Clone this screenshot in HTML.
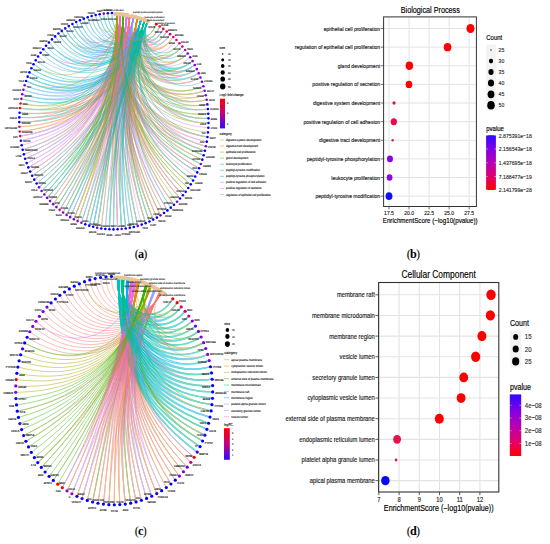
<!DOCTYPE html>
<html><head><meta charset="utf-8"><style>
html,body{margin:0;padding:0;background:#fff;}
body{width:550px;height:544px;overflow:hidden;position:relative;font-family:"Liberation Sans",sans-serif;}
svg{position:absolute;left:0;top:0;}
.pl{position:absolute;font-family:"Liberation Serif",serif;font-size:12.2px;color:#000;line-height:1;white-space:nowrap;letter-spacing:-0.8px;}
.pl b{font-weight:bold;}
</style></head><body>
<svg width="550" height="544" viewBox="0 0 550 544" font-family="Liberation Sans, sans-serif"><defs>
<linearGradient id="gb" x1="0" y1="0" x2="0" y2="1"><stop offset="0" stop-color="#2d0bff"/><stop offset="0.25" stop-color="#7f00e6"/><stop offset="0.5" stop-color="#b400b4"/><stop offset="0.75" stop-color="#e00070"/><stop offset="1" stop-color="#ff0000"/></linearGradient>
<linearGradient id="gd" x1="0" y1="0" x2="0" y2="1"><stop offset="0" stop-color="#2d0bff"/><stop offset="0.25" stop-color="#7f00e6"/><stop offset="0.5" stop-color="#b400b4"/><stop offset="0.75" stop-color="#e00070"/><stop offset="1" stop-color="#ff0000"/></linearGradient>
<linearGradient id="gfc" x1="0" y1="0" x2="0" y2="1"><stop offset="0" stop-color="#ff0000"/><stop offset="0.5" stop-color="#c4007f"/><stop offset="1" stop-color="#2d0bff"/></linearGradient>
</defs><g text-rendering="geometricPrecision"><g fill="none" stroke-width="0.75"><g opacity="0.55"><path d="M203.3 91.14C159.14 105.99 118.48 68.07 122.96 16.22" stroke="#39B600"/><path d="M203.3 91.14C160.17 105.64 120.32 67.09 126.3 16.66" stroke="#E76BF3"/><path d="M203.3 91.14C158.13 106.33 116.75 69.1 119.66 15.91" stroke="#FF62BC"/><path d="M203.3 91.14C157.21 106.64 115.23 70.11 116.65 15.75" stroke="#A3A500"/></g><g opacity="0.55"><path d="M21.41 108.28C77.84 116.16 117.71 80.3 123.67 16.3" stroke="#39B600"/><path d="M21.41 108.28C82.36 116.79 122.02 86.45 137.73 19.29" stroke="#D89000"/><path d="M21.41 108.28C85.49 117.23 124.11 90.97 147.12 22.79" stroke="#00BFC4"/></g><g opacity="0.55"><path d="M25.2 153.84C87.29 130.99 114.93 89.57 117.32 15.78" stroke="#A3A500"/><path d="M25.2 153.84C87.29 130.99 119.78 90.27 133.5 18.11" stroke="#9590FF"/></g><g opacity="0.55"><path d="M20.72 122.08C80.3 121.52 116.2 83.25 120.26 15.96" stroke="#FF62BC"/><path d="M20.72 122.08C83.43 121.49 119.17 87.23 130.02 17.33" stroke="#F8766D"/><path d="M20.72 122.08C85.92 121.47 121.03 90.58 137.65 19.26" stroke="#D89000"/><path d="M20.72 122.08C85.95 121.46 123.85 91.67 147.07 22.76" stroke="#00BFC4"/></g><g opacity="0.55"><path d="M205.24 100.09C157.64 111.09 118.25 70.92 122.98 16.22" stroke="#39B600"/><path d="M205.24 100.09C163.22 109.8 128.27 66.65 140.5 20.19" stroke="#00B0F6"/><path d="M205.24 100.09C160.81 110.36 123.72 68.19 133.01 18" stroke="#9590FF"/><path d="M205.24 100.09C162.09 110.06 126.08 67.32 136.99 19.06" stroke="#D89000"/></g><g opacity="0.55"><path d="M191.38 62C159.61 86.28 117.24 59.08 119.56 15.9" stroke="#FF62BC"/><path d="M191.38 62C158.82 86.88 115.45 60.07 116.58 15.75" stroke="#A3A500"/><path d="M191.38 62C162.22 84.28 123.53 56.34 129.34 17.19" stroke="#F8766D"/><path d="M191.38 62C160.48 85.61 119.28 58.08 122.84 16.2" stroke="#39B600"/><path d="M191.38 62C163.2 83.54 126.03 55.53 132.97 17.99" stroke="#9590FF"/><path d="M191.38 62C165.23 81.98 131.47 54.26 140.42 20.16" stroke="#00B0F6"/><path d="M191.38 62C166.99 80.64 136.39 53.64 146.72 22.61" stroke="#00BFC4"/><path d="M191.38 62C166.21 81.24 134.17 53.86 143.93 21.45" stroke="#00BF7D"/></g><g opacity="0.55"><path d="M137.43 224.32C120.96 152.14 114.82 89.57 116.97 15.76" stroke="#A3A500"/><path d="M137.43 224.32C120.96 152.14 116.75 89.72 123.41 16.27" stroke="#39B600"/><path d="M137.43 224.32C120.96 152.14 115.71 89.62 119.93 15.93" stroke="#FF62BC"/><path d="M137.43 224.32C120.96 152.14 123.78 91.64 146.85 22.67" stroke="#00BFC4"/></g><g opacity="0.55"><path d="M199.14 78.15C160.52 97.66 118.83 63.78 122.91 16.21" stroke="#39B600"/><path d="M199.14 78.15C161.5 97.16 120.81 62.82 126.27 16.66" stroke="#E76BF3"/><path d="M199.14 78.15C162.43 96.69 122.73 62 129.41 17.21" stroke="#F8766D"/></g><g opacity="0.55"><path d="M24.74 90.25C77.34 108.51 121.98 78.94 133.6 18.14" stroke="#9590FF"/><path d="M24.74 90.25C79.65 109.31 124.28 82.46 140.93 20.34" stroke="#00B0F6"/></g><g opacity="0.55"><path d="M103.9 15.24C106.51 42.89 136.63 47.7 144.65 21.74" stroke="#00BF7D"/><path d="M103.9 15.24C106.62 44 138.4 49.63 147.53 22.97" stroke="#00BFC4"/></g><g opacity="0.55"><path d="M181.9 194.07C134.3 143.06 114.8 89.57 116.91 15.76" stroke="#A3A500"/><path d="M181.9 194.07C134.3 143.06 115.67 89.62 119.79 15.92" stroke="#FF62BC"/><path d="M181.9 194.07C134.3 143.06 116.71 89.71 123.26 16.25" stroke="#39B600"/><path d="M181.9 194.07C134.3 143.06 117.69 89.85 126.54 16.7" stroke="#E76BF3"/></g><g opacity="0.55"><path d="M51.06 199.89C95.05 144.81 114.9 89.57 117.25 15.77" stroke="#A3A500"/><path d="M51.06 199.89C95.05 144.81 115.75 89.62 120.07 15.94" stroke="#FF62BC"/><path d="M51.06 199.89C95.05 144.81 119.73 90.26 133.35 18.08" stroke="#9590FF"/></g><g opacity="0.55"><path d="M26.51 158.2C87.68 132.3 114.92 89.57 117.3 15.78" stroke="#A3A500"/><path d="M26.51 158.2C87.68 132.3 115.78 89.62 120.17 15.95" stroke="#FF62BC"/><path d="M26.51 158.2C87.68 132.3 119.77 90.27 133.48 18.11" stroke="#9590FF"/></g><g opacity="0.55"><path d="M121.55 227.42C116.19 153.07 117.77 89.86 126.8 16.74" stroke="#E76BF3"/><path d="M121.55 227.42C116.19 153.07 114.84 89.57 117.02 15.77" stroke="#A3A500"/><path d="M121.55 227.42C116.19 153.07 123 91.31 144.23 21.57" stroke="#00BF7D"/><path d="M121.55 227.42C116.19 153.07 121.92 90.91 140.63 20.23" stroke="#00B0F6"/><path d="M121.55 227.42C116.19 153.07 123.8 91.65 146.9 22.69" stroke="#00BFC4"/></g><g opacity="0.55"><path d="M184.59 190.63C135.11 142.03 114.8 89.57 116.89 15.76" stroke="#A3A500"/><path d="M184.59 190.63C135.11 142.03 118.61 90.01 129.62 17.25" stroke="#F8766D"/><path d="M184.59 190.63C135.11 142.03 122.98 91.3 144.16 21.55" stroke="#00BF7D"/><path d="M184.59 190.63C135.11 142.03 120.88 90.57 137.15 19.11" stroke="#D89000"/></g><g opacity="0.55"><path d="M201 159.07C140.21 132.64 116.68 89.49 123.12 16.23" stroke="#39B600"/><path d="M201 159.07C141.21 133.08 117.84 88.43 126.46 16.69" stroke="#E76BF3"/><path d="M201 159.07C144.44 134.48 122.03 85.4 137.1 19.1" stroke="#D89000"/></g><g opacity="0.55"><path d="M195.98 171.65C138.52 136.34 115.65 89.61 119.73 15.92" stroke="#FF62BC"/><path d="M195.98 171.65C138.52 136.34 116.69 89.71 123.19 16.24" stroke="#39B600"/><path d="M195.98 171.65C138.52 136.34 117.68 89.85 126.51 16.7" stroke="#E76BF3"/><path d="M195.98 171.65C138.52 136.34 119.66 90.24 133.1 18.02" stroke="#9590FF"/><path d="M195.98 171.65C141.38 138.09 124.02 87.83 144.12 21.53" stroke="#00BF7D"/></g><g opacity="0.55"><path d="M169.22 35.44C154.41 58.39 125.14 45.02 129.24 17.17" stroke="#F8766D"/><path d="M169.22 35.44C152.55 61.28 117.78 47.62 119.46 15.9" stroke="#FF62BC"/><path d="M169.22 35.44C157.84 53.09 139.94 42.89 146.68 22.59" stroke="#00BFC4"/></g><g opacity="0.55"><path d="M145.14 221.61C123.27 151.32 117.75 89.86 126.72 16.73" stroke="#E76BF3"/><path d="M145.14 221.61C123.27 151.32 116.75 89.72 123.39 16.27" stroke="#39B600"/><path d="M145.14 221.61C123.27 151.32 115.7 89.62 119.91 15.93" stroke="#FF62BC"/><path d="M145.14 221.61C123.27 151.32 123.78 91.64 146.83 22.66" stroke="#00BFC4"/><path d="M145.14 221.61C123.27 151.32 120.93 90.59 137.32 19.16" stroke="#D89000"/></g><g opacity="0.55"><path d="M195.57 69.89C159.03 92.84 115.4 62.93 116.62 15.75" stroke="#A3A500"/><path d="M195.57 69.89C159.86 92.32 117.11 61.94 119.6 15.91" stroke="#FF62BC"/><path d="M195.57 69.89C164.77 89.24 128.25 57.58 136.94 19.05" stroke="#D89000"/><path d="M195.57 69.89C165.79 88.6 130.77 57.01 140.46 20.17" stroke="#00B0F6"/></g><g opacity="0.55"><path d="M165.92 32.78C150.96 58.22 117.85 46.19 119.44 15.9" stroke="#FF62BC"/><path d="M165.92 32.78C152.17 56.16 122.98 44.29 126.25 16.65" stroke="#E76BF3"/><path d="M165.92 32.78C152.7 55.25 125.32 43.6 129.21 17.17" stroke="#F8766D"/><path d="M165.92 32.78C155.39 50.69 137.77 41.62 143.84 21.42" stroke="#00BF7D"/></g><g opacity="0.55"><path d="M69.47 27.52C85.96 62.29 131.05 57.83 141.17 20.42" stroke="#00B0F6"/><path d="M69.47 27.52C86.51 63.45 132.82 59.87 144.58 21.71" stroke="#00BF7D"/></g><g opacity="0.55"><path d="M54.09 202.93C95.96 145.72 114.9 89.57 117.23 15.77" stroke="#A3A500"/><path d="M54.09 202.93C95.96 145.72 119.73 90.26 133.33 18.07" stroke="#9590FF"/><path d="M54.09 202.93C95.96 145.72 120.98 90.6 137.48 19.21" stroke="#D89000"/></g><g opacity="0.55"><path d="M21.61 135.87C83.47 126.04 115.04 86.45 117.36 15.78" stroke="#A3A500"/><path d="M21.61 135.87C86.21 125.6 117.87 89.88 127.12 16.79" stroke="#E76BF3"/><path d="M21.61 135.87C84.38 125.89 115.92 87.54 120.22 15.95" stroke="#FF62BC"/><path d="M21.61 135.87C86.21 125.6 119.8 90.28 133.56 18.13" stroke="#9590FF"/></g><g opacity="0.55"><path d="M41.69 53.84C78.95 88.6 130.05 73.6 147.27 22.85" stroke="#00BFC4"/></g><g opacity="0.55"><path d="M52.92 40.62C81.07 77.82 131.89 68.27 147.32 22.88" stroke="#00BFC4"/></g><g opacity="0.55"><path d="M206.58 132.22C147.45 125.19 114.92 83.03 116.73 15.75" stroke="#A3A500"/></g><g opacity="0.55"><path d="M35.5 178.8C90.38 138.48 118.71 90.03 129.92 17.31" stroke="#F8766D"/><path d="M35.5 178.8C90.38 138.48 119.76 90.27 133.43 18.1" stroke="#9590FF"/><path d="M35.5 178.8C90.38 138.48 121.98 90.93 140.85 20.31" stroke="#00B0F6"/><path d="M35.5 178.8C90.38 138.48 121 90.61 137.57 19.24" stroke="#D89000"/></g><g opacity="0.55"><path d="M29.64 166.7C88.62 134.85 115.77 89.62 120.13 15.95" stroke="#FF62BC"/><path d="M29.64 166.7C88.62 134.85 117.84 89.87 127.04 16.78" stroke="#E76BF3"/></g><g opacity="0.55"><path d="M205.4 141.35C148.54 128.83 119.8 81.84 129.48 17.22" stroke="#F8766D"/><path d="M205.4 141.35C145.45 128.15 115.89 84.89 119.68 15.91" stroke="#FF62BC"/></g><g opacity="0.55"><path d="M101.43 226.82C110.16 152.89 115.73 89.62 119.99 15.94" stroke="#FF62BC"/><path d="M101.43 226.82C110.16 152.89 114.86 89.57 117.1 15.77" stroke="#A3A500"/></g><g opacity="0.55"><path d="M193.55 65.89C159 89.89 115.43 61.5 116.6 15.75" stroke="#A3A500"/><path d="M193.55 65.89C159.81 89.32 117.17 60.51 119.58 15.91" stroke="#FF62BC"/><path d="M193.55 65.89C160.71 88.7 119.17 59.5 122.87 16.2" stroke="#39B600"/><path d="M193.55 65.89C162.49 87.46 123.34 57.75 129.38 17.2" stroke="#F8766D"/><path d="M193.55 65.89C166.59 84.61 133.78 55.22 143.95 21.46" stroke="#00BF7D"/><path d="M193.55 65.89C167.4 84.05 135.96 54.99 146.74 22.62" stroke="#00BFC4"/><path d="M193.55 65.89C165.59 85.31 131.12 55.64 140.44 20.17" stroke="#00B0F6"/></g><g opacity="0.55"><path d="M148.91 219.97C124.4 150.83 118.65 90.02 129.72 17.27" stroke="#F8766D"/><path d="M148.91 219.97C124.4 150.83 121.91 90.91 140.59 20.22" stroke="#00B0F6"/><path d="M148.91 219.97C124.4 150.83 122.99 91.31 144.19 21.55" stroke="#00BF7D"/></g><g opacity="0.55"><path d="M173.08 203.52C131.65 145.9 116.72 89.72 123.3 16.25" stroke="#39B600"/><path d="M173.08 203.52C131.65 145.9 118.63 90.02 129.65 17.25" stroke="#F8766D"/><path d="M173.08 203.52C131.65 145.9 117.71 89.85 126.59 16.71" stroke="#E76BF3"/><path d="M173.08 203.52C131.65 145.9 120.89 90.58 137.21 19.13" stroke="#D89000"/></g><g opacity="0.55"><path d="M23.06 144.95C86.65 128.32 117.85 89.88 127.07 16.79" stroke="#E76BF3"/></g><g opacity="0.55"><path d="M152.61 218.14C125.51 150.28 114.81 89.57 116.95 15.76" stroke="#A3A500"/><path d="M152.61 218.14C125.51 150.28 115.7 89.62 119.89 15.93" stroke="#FF62BC"/><path d="M152.61 218.14C125.51 150.28 116.74 89.72 123.37 16.26" stroke="#39B600"/><path d="M152.61 218.14C125.51 150.28 118.64 90.02 129.68 17.26" stroke="#F8766D"/><path d="M152.61 218.14C125.51 150.28 123.77 91.63 146.81 22.65" stroke="#00BFC4"/><path d="M152.61 218.14C125.51 150.28 120.92 90.59 137.29 19.15" stroke="#D89000"/></g><g opacity="0.55"><path d="M200.69 82.41C167.46 97.26 134.18 60.36 146.76 22.63" stroke="#00BFC4"/></g><g opacity="0.55"><path d="M141.31 223.06C122.12 151.76 117.75 89.86 126.75 16.73" stroke="#E76BF3"/></g><g opacity="0.55"><path d="M37.75 182.62C91.06 139.63 119.75 90.27 133.41 18.09" stroke="#9590FF"/><path d="M37.75 182.62C91.06 139.63 123.84 91.67 147.05 22.75" stroke="#00BFC4"/></g><g opacity="0.55"><path d="M193.99 175.67C137.93 137.54 115.66 89.62 119.75 15.92" stroke="#FF62BC"/></g><g opacity="0.55"><path d="M204.35 95.59C156.5 109.14 115.21 71.54 116.67 15.75" stroke="#A3A500"/><path d="M204.35 95.59C162.84 107.34 126.38 65.93 136.96 19.06" stroke="#D89000"/></g><g opacity="0.55"><path d="M45.35 193.38C93.33 142.86 114.91 89.57 117.26 15.78" stroke="#A3A500"/><path d="M45.35 193.38C93.33 142.86 116.82 89.73 123.62 16.29" stroke="#39B600"/><path d="M45.35 193.38C93.33 142.86 123.06 91.33 144.42 21.65" stroke="#00BF7D"/><path d="M45.35 193.38C93.33 142.86 121.97 90.93 140.8 20.29" stroke="#00B0F6"/></g><g opacity="0.55"><path d="M59.24 34.89C82.43 71.51 131.55 63.92 144.56 21.7" stroke="#00BF7D"/><path d="M59.24 34.89C82.99 72.39 132.82 65.61 147.36 22.89" stroke="#00BFC4"/></g><g opacity="0.55"><path d="M60.5 208.54C97.88 147.4 115.74 89.62 120.05 15.94" stroke="#FF62BC"/><path d="M60.5 208.54C97.88 147.4 121.96 90.93 140.78 20.28" stroke="#00B0F6"/><path d="M60.5 208.54C97.88 147.4 120.97 90.6 137.46 19.2" stroke="#D89000"/><path d="M60.5 208.54C97.88 147.4 119.72 90.26 133.31 18.07" stroke="#9590FF"/></g><g opacity="0.55"><path d="M84.24 20.17C93.64 52.18 132.57 52.37 141.23 20.44" stroke="#00B0F6"/><path d="M84.24 20.17C92.86 49.53 128.02 48.13 133.81 18.19" stroke="#9590FF"/></g><g opacity="0.55"><path d="M169.91 206.38C130.7 146.75 117.72 89.85 126.62 16.71" stroke="#E76BF3"/><path d="M169.91 206.38C130.7 146.75 123.77 91.63 146.79 22.64" stroke="#00BFC4"/></g><g opacity="0.55"><path d="M175.5 41.23C155.27 67.5 117.66 50.48 119.5 15.9" stroke="#FF62BC"/></g><g opacity="0.55"><path d="M99.9 15.83C103.89 45.87 137.93 50.96 147.51 22.96" stroke="#00BFC4"/><path d="M99.9 15.83C103.58 43.49 134.09 46.9 141.27 20.46" stroke="#00B0F6"/></g><g opacity="0.55"><path d="M204.55 145.85C143.02 129.12 114.82 87.33 116.76 15.76" stroke="#A3A500"/><path d="M204.55 145.85C146.02 129.93 118.33 84.17 126.41 16.68" stroke="#E76BF3"/><path d="M204.55 145.85C150.5 131.16 124.66 80.42 140.55 20.2" stroke="#00B0F6"/><path d="M204.55 145.85C146.99 130.2 119.6 83.25 129.51 17.23" stroke="#F8766D"/></g><g opacity="0.55"><path d="M162.53 30.29C150.83 52.16 125.5 42.19 129.18 17.16" stroke="#F8766D"/><path d="M162.53 30.29C149.2 55.21 117.91 44.76 119.42 15.89" stroke="#FF62BC"/><path d="M162.53 30.29C151.47 50.97 128.6 41.46 132.93 17.98" stroke="#9590FF"/><path d="M162.53 30.29C150.33 53.09 123.13 42.87 126.22 16.65" stroke="#E76BF3"/><path d="M162.53 30.29C153.34 47.47 138.16 40.26 143.81 21.41" stroke="#00BF7D"/></g><g opacity="0.55"><path d="M197.43 73.98C159.78 95.26 117.04 63.37 119.62 15.91" stroke="#FF62BC"/><path d="M197.43 73.98C160.71 94.73 118.94 62.36 122.89 16.21" stroke="#39B600"/><path d="M197.43 73.98C163.63 93.08 125.27 59.75 132.99 17.99" stroke="#9590FF"/><path d="M197.43 73.98C165.84 91.84 130.43 58.39 140.48 20.18" stroke="#00B0F6"/></g><g opacity="0.55"><path d="M184.03 51.02C164.82 70.25 137.72 49.61 146.7 22.6" stroke="#00BFC4"/></g><g opacity="0.55"><path d="M107.92 14.84C109.4 41.16 137.06 46.36 144.68 21.75" stroke="#00BF7D"/><path d="M107.92 14.84C109.33 39.87 134.85 44.17 141.3 20.47" stroke="#00B0F6"/></g><g opacity="0.55"><path d="M40.15 186.33C91.77 140.74 115.76 89.62 120.09 15.94" stroke="#FF62BC"/><path d="M40.15 186.33C91.77 140.74 121.98 90.93 140.82 20.3" stroke="#00B0F6"/><path d="M40.15 186.33C91.77 140.74 119.75 90.27 133.39 18.09" stroke="#9590FF"/><path d="M40.15 186.33C91.77 140.74 120.99 90.61 137.54 19.23" stroke="#D89000"/><path d="M40.15 186.33C91.77 140.74 123.06 91.34 144.44 21.66" stroke="#00BF7D"/></g><g opacity="0.55"><path d="M95.93 16.62C99.4 36.83 116.75 36.15 117.43 15.78" stroke="#A3A500"/><path d="M95.93 16.62C100.42 42.75 128.87 43.94 133.85 18.2" stroke="#9590FF"/><path d="M95.93 16.62C101.3 47.85 137.46 52.29 147.49 22.95" stroke="#00BFC4"/></g><g opacity="0.55"><path d="M205.95 104.63C154.74 113.85 115.14 74.41 116.69 15.75" stroke="#A3A500"/><path d="M205.95 104.63C162.36 112.48 127.92 68.02 140.52 20.2" stroke="#00B0F6"/><path d="M205.95 104.63C161.21 112.68 125.78 68.7 137.02 19.07" stroke="#D89000"/></g><g opacity="0.55"><path d="M133.51 225.39C119.78 152.46 114.83 89.57 116.99 15.76" stroke="#A3A500"/><path d="M133.51 225.39C119.78 152.46 123.79 91.64 146.87 22.67" stroke="#00BFC4"/></g><g opacity="0.55"><path d="M56.02 37.67C79.14 71.03 125.8 59.32 133.71 18.17" stroke="#9590FF"/><path d="M56.02 37.67C81.96 75.1 132.36 66.94 147.34 22.88" stroke="#00BFC4"/></g><g opacity="0.55"><path d="M206.49 109.2C155.72 115.78 118.01 73.78 123 16.22" stroke="#39B600"/><path d="M206.49 109.2C158.94 115.36 123.21 71 133.04 18" stroke="#9590FF"/><path d="M206.49 109.2C162.53 114.9 129.7 68.82 143.98 21.47" stroke="#00BF7D"/></g><g opacity="0.55"><path d="M36.87 61.23C78.72 93.81 129.13 76.28 147.25 22.84" stroke="#00BFC4"/></g><g opacity="0.55"><path d="M32.63 69.07C78.18 98.29 127.35 77.47 144.51 21.69" stroke="#00BF7D"/><path d="M32.63 69.07C77.17 97.64 126.17 75.63 141.04 20.37" stroke="#00B0F6"/></g><g opacity="0.55"><path d="M156.24 216.14C126.6 149.68 115.69 89.62 119.87 15.93" stroke="#FF62BC"/><path d="M156.24 216.14C126.6 149.68 117.74 89.86 126.7 16.73" stroke="#E76BF3"/><path d="M156.24 216.14C126.6 149.68 120.91 90.58 137.26 19.15" stroke="#D89000"/></g><g opacity="0.55"><path d="M73.05 25.41C84.69 52.7 118.49 45.95 120.32 15.96" stroke="#FF62BC"/><path d="M73.05 25.41C86.59 57.15 127.18 52.32 133.77 18.18" stroke="#9590FF"/><path d="M73.05 25.41C87.66 59.67 131.43 56.47 141.19 20.43" stroke="#00B0F6"/><path d="M73.05 25.41C88.58 61.83 134.67 60.28 147.42 22.92" stroke="#00BFC4"/></g><g opacity="0.55"><path d="M48.14 196.71C94.17 143.85 119.74 90.26 133.37 18.08" stroke="#9590FF"/><path d="M48.14 196.71C94.17 143.85 116.81 89.73 123.6 16.29" stroke="#39B600"/><path d="M48.14 196.71C94.17 143.85 120.98 90.61 137.51 19.22" stroke="#D89000"/><path d="M48.14 196.71C94.17 143.85 123.83 91.66 147.01 22.74" stroke="#00BFC4"/><path d="M48.14 196.71C94.17 143.85 123.05 91.33 144.4 21.64" stroke="#00BF7D"/></g><g opacity="0.55"><path d="M78.14 219.61C103.17 150.72 114.88 89.57 117.15 15.77" stroke="#A3A500"/><path d="M78.14 219.61C103.17 150.72 116.78 89.72 123.51 16.28" stroke="#39B600"/><path d="M78.14 219.61C103.17 150.72 119.71 90.26 133.27 18.06" stroke="#9590FF"/><path d="M78.14 219.61C103.17 150.72 120.95 90.6 137.4 19.19" stroke="#D89000"/></g><g opacity="0.55"><path d="M206.91 127.62C151.91 123.83 118.99 78.48 126.35 16.67" stroke="#E76BF3"/></g><g opacity="0.55"><path d="M206.86 113.8C154.63 117.96 117.9 75.2 123.03 16.22" stroke="#39B600"/><path d="M206.86 113.8C152.62 118.12 115.07 77.28 116.71 15.75" stroke="#A3A500"/></g><g opacity="0.55"><path d="M21.14 131.29C82.97 124.57 116.02 86.11 120.24 15.95" stroke="#FF62BC"/><path d="M21.14 131.29C86.07 124.23 121.01 90.61 137.59 19.24" stroke="#D89000"/></g><g opacity="0.55"><path d="M105.44 227.34C111.36 153.04 117.79 89.87 126.88 16.76" stroke="#E76BF3"/><path d="M105.44 227.34C111.36 153.04 123.81 91.65 146.94 22.71" stroke="#00BFC4"/></g><g opacity="0.55"><path d="M117.52 227.7C114.99 153.15 114.84 89.57 117.04 15.77" stroke="#A3A500"/><path d="M117.52 227.7C114.99 153.15 116.76 89.72 123.44 16.27" stroke="#39B600"/><path d="M117.52 227.7C114.99 153.15 117.78 89.86 126.83 16.75" stroke="#E76BF3"/><path d="M117.52 227.7C114.99 153.15 115.72 89.62 119.95 15.93" stroke="#FF62BC"/></g><g opacity="0.55"><path d="M187.15 187.07C135.88 140.96 114.79 89.57 116.87 15.76" stroke="#A3A500"/><path d="M187.15 187.07C135.88 140.96 116.7 89.71 123.23 16.25" stroke="#39B600"/></g><g opacity="0.55"><path d="M111.95 14.65C112.38 38.27 135.24 42.81 141.32 20.47" stroke="#00B0F6"/><path d="M111.95 14.65C112.43 40.67 139.33 46.97 147.54 22.97" stroke="#00BFC4"/></g><g opacity="0.55"><path d="M202.35 154.73C140.44 131.26 114.77 89.57 116.8 15.76" stroke="#A3A500"/><path d="M202.35 154.73C142.83 132.17 118 87.01 126.43 16.68" stroke="#E76BF3"/><path d="M202.35 154.73C141.82 131.78 116.8 88.07 123.1 16.23" stroke="#39B600"/><path d="M202.35 154.73C148.33 134.25 125.65 82.4 144.09 21.52" stroke="#00BF7D"/></g><g opacity="0.55"><path d="M97.45 226.1C108.96 152.67 114.86 89.57 117.12 15.77" stroke="#A3A500"/><path d="M97.45 226.1C108.96 152.67 116.77 89.72 123.48 16.28" stroke="#39B600"/><path d="M97.45 226.1C108.96 152.67 120.93 90.59 137.35 19.17" stroke="#D89000"/><path d="M97.45 226.1C108.96 152.67 121.93 90.91 140.67 20.25" stroke="#00B0F6"/></g><g opacity="0.55"><path d="M67.3 213.49C99.92 148.89 114.89 89.57 117.19 15.77" stroke="#A3A500"/><path d="M67.3 213.49C99.92 148.89 118.69 90.03 129.85 17.3" stroke="#F8766D"/><path d="M67.3 213.49C99.92 148.89 117.82 89.87 126.96 16.77" stroke="#E76BF3"/><path d="M67.3 213.49C99.92 148.89 116.8 89.73 123.55 16.28" stroke="#39B600"/><path d="M67.3 213.49C99.92 148.89 121.96 90.92 140.76 20.28" stroke="#00B0F6"/><path d="M67.3 213.49C99.92 148.89 123.83 91.66 146.99 22.73" stroke="#00BFC4"/></g><g opacity="0.55"><path d="M28 162.49C88.13 133.59 115.77 89.62 120.15 15.95" stroke="#FF62BC"/><path d="M28 162.49C88.13 133.59 119.77 90.27 133.45 18.1" stroke="#9590FF"/></g><g opacity="0.55"><path d="M22.25 140.43C86.4 126.97 117.86 89.88 127.09 16.79" stroke="#E76BF3"/><path d="M22.25 140.43C85.83 127.09 115.83 88.97 120.21 15.95" stroke="#FF62BC"/><path d="M22.25 140.43C86.4 126.97 119.79 90.28 133.54 18.12" stroke="#9590FF"/></g><g opacity="0.55"><path d="M181.31 47.62C156.65 74.54 115.58 54.33 116.54 15.75" stroke="#A3A500"/><path d="M181.31 47.62C159.61 71.31 124.35 50.68 129.31 17.19" stroke="#F8766D"/><path d="M181.31 47.62C158.09 72.96 119.73 52.36 122.8 16.2" stroke="#39B600"/><path d="M181.31 47.62C157.34 73.79 117.52 53.35 119.52 15.9" stroke="#FF62BC"/><path d="M181.31 47.62C163.07 67.53 135.77 48.42 143.88 21.43" stroke="#00BF7D"/></g><g opacity="0.55"><path d="M176.14 200.52C132.57 145 116.71 89.72 123.28 16.25" stroke="#39B600"/></g><g opacity="0.55"><path d="M30.73 73.14C77.44 100.13 125.79 77 141.02 20.37" stroke="#00B0F6"/><path d="M30.73 73.14C79.3 101.21 127.76 80.28 147.21 22.83" stroke="#00BFC4"/></g><g opacity="0.55"><path d="M189.07 58.22C162.75 80.28 126.28 54.13 132.95 17.98" stroke="#9590FF"/></g><g opacity="0.55"><path d="M62.55 32.26C78.77 60.36 116.3 49.08 117.41 15.78" stroke="#A3A500"/><path d="M62.55 32.26C81.66 65.36 126.35 56.52 133.73 18.17" stroke="#9590FF"/><path d="M62.55 32.26C83.01 67.69 130.28 60.55 141.12 20.4" stroke="#00B0F6"/><path d="M62.55 32.26C84.17 69.7 133.29 64.28 147.38 22.9" stroke="#00BFC4"/></g><g opacity="0.55"><path d="M129.55 226.26C118.59 152.72 119.68 90.25 133.16 18.03" stroke="#9590FF"/><path d="M129.55 226.26C118.59 152.72 121.91 90.91 140.61 20.23" stroke="#00B0F6"/></g><g opacity="0.55"><path d="M163.26 211.59C128.71 148.32 119.67 90.25 133.14 18.03" stroke="#9590FF"/><path d="M163.26 211.59C128.71 148.32 120.9 90.58 137.24 19.14" stroke="#D89000"/></g><g opacity="0.55"><path d="M159.05 27.97C147.28 52.26 117.97 43.33 119.4 15.89" stroke="#FF62BC"/><path d="M159.05 27.97C146.83 53.19 115.8 44.27 116.5 15.75" stroke="#A3A500"/><path d="M159.05 27.97C147.8 51.19 120.55 42.35 122.75 16.19" stroke="#39B600"/><path d="M159.05 27.97C148.79 49.14 125.68 40.78 129.14 17.16" stroke="#F8766D"/><path d="M159.05 27.97C151.6 43.35 141.26 38.85 146.66 22.59" stroke="#00BFC4"/></g><g opacity="0.55"><path d="M80.45 21.73C91.91 55.81 134.08 55.81 144.61 21.72" stroke="#00BF7D"/><path d="M80.45 21.73C92.26 56.85 135.61 57.62 147.45 22.93" stroke="#00BFC4"/></g><g opacity="0.55"><path d="M203.54 150.32C145.41 131.44 119.4 84.65 129.55 17.23" stroke="#F8766D"/><path d="M203.54 150.32C141.48 130.16 114.79 88.76 116.78 15.76" stroke="#A3A500"/><path d="M203.54 150.32C142.37 130.45 115.74 87.76 119.7 15.91" stroke="#FF62BC"/><path d="M203.54 150.32C150.01 132.93 126.05 81.04 144.07 21.51" stroke="#00BF7D"/></g><g opacity="0.55"><path d="M207.07 123.02C152.19 121.95 117.66 78.06 123.05 16.23" stroke="#39B600"/><path d="M207.07 123.02C159.04 122.08 128.49 72.89 144.02 21.49" stroke="#00BF7D"/><path d="M207.07 123.02C156.73 122.03 124.55 74.26 137.07 19.09" stroke="#D89000"/></g><g opacity="0.55"><path d="M125.56 226.94C117.4 152.92 114.83 89.57 117 15.76" stroke="#A3A500"/><path d="M125.56 226.94C117.4 152.92 117.76 89.86 126.78 16.74" stroke="#E76BF3"/><path d="M125.56 226.94C117.4 152.92 123.8 91.64 146.88 22.68" stroke="#00BFC4"/><path d="M125.56 226.94C117.4 152.92 122.99 91.31 144.21 21.56" stroke="#00BF7D"/></g><g opacity="0.55"><path d="M159.8 213.95C127.67 149.03 117.73 89.86 126.67 16.72" stroke="#E76BF3"/><path d="M159.8 213.95C127.67 149.03 115.69 89.62 119.85 15.92" stroke="#FF62BC"/><path d="M159.8 213.95C127.67 149.03 116.73 89.72 123.35 16.26" stroke="#39B600"/></g><g opacity="0.55"><path d="M33.39 174.86C89.75 137.3 118.72 90.03 129.96 17.32" stroke="#F8766D"/><path d="M33.39 174.86C89.75 137.3 121.99 90.93 140.87 20.31" stroke="#00B0F6"/></g><g opacity="0.55"><path d="M178.46 44.35C155.72 71.42 115.6 52.89 116.52 15.75" stroke="#A3A500"/><path d="M178.46 44.35C161.87 64.1 136.16 47.06 143.86 21.43" stroke="#00BF7D"/></g><g opacity="0.55"><path d="M57.24 205.81C96.9 146.58 117.83 89.87 126.99 16.77" stroke="#E76BF3"/><path d="M57.24 205.81C96.9 146.58 116.8 89.73 123.57 16.29" stroke="#39B600"/><path d="M57.24 205.81C96.9 146.58 123.04 91.33 144.37 21.63" stroke="#00BF7D"/></g><g opacity="0.55"><path d="M191.86 179.58C137.29 138.71 114.78 89.57 116.84 15.76" stroke="#A3A500"/><path d="M191.86 179.58C137.88 139.16 123.2 90.54 144.14 21.54" stroke="#00BF7D"/><path d="M191.86 179.58C137.29 138.71 120.87 90.57 137.13 19.1" stroke="#D89000"/><path d="M191.86 179.58C137.29 138.71 121.9 90.9 140.57 20.21" stroke="#00B0F6"/></g><g opacity="0.55"><path d="M206.08 136.8C146.02 126.63 114.89 84.46 116.75 15.76" stroke="#A3A500"/><path d="M206.08 136.8C148.02 126.97 117.29 82.35 123.07 16.23" stroke="#39B600"/><path d="M206.08 136.8C149.06 127.15 118.66 81.33 126.38 16.67" stroke="#E76BF3"/><path d="M206.08 136.8C150.04 127.32 120 80.43 129.45 17.21" stroke="#F8766D"/><path d="M206.08 136.8C154.79 128.12 127.27 76.97 144.05 21.5" stroke="#00BF7D"/></g><g opacity="0.55"><path d="M24.04 149.42C86.94 129.67 115.79 89.63 120.19 15.95" stroke="#FF62BC"/><path d="M24.04 149.42C86.94 129.67 114.93 89.57 117.34 15.78" stroke="#A3A500"/><path d="M24.04 149.42C86.94 129.67 119.79 90.28 133.52 18.12" stroke="#9590FF"/></g><g opacity="0.55"><path d="M207.05 118.4C154.5 119.98 119.32 75.64 126.33 16.67" stroke="#E76BF3"/><path d="M207.05 118.4C156.67 119.92 122.7 73.81 133.06 18.01" stroke="#9590FF"/><path d="M207.05 118.4C157.98 119.88 124.85 72.88 137.04 19.08" stroke="#D89000"/><path d="M207.05 118.4C160.29 119.81 128.89 71.54 144 21.48" stroke="#00BF7D"/></g><g opacity="0.55"><path d="M166.63 209.07C129.72 147.56 115.68 89.62 119.83 15.92" stroke="#FF62BC"/><path d="M166.63 209.07C129.72 147.56 116.73 89.72 123.32 16.26" stroke="#39B600"/><path d="M166.63 209.07C129.72 147.56 117.72 89.86 126.64 16.72" stroke="#E76BF3"/><path d="M166.63 209.07C129.72 147.56 119.67 90.25 133.12 18.02" stroke="#9590FF"/></g><g opacity="0.55"><path d="M113.49 227.78C113.78 153.17 114.85 89.57 117.06 15.77" stroke="#A3A500"/><path d="M113.49 227.78C113.78 153.17 116.77 89.72 123.46 16.27" stroke="#39B600"/><path d="M113.49 227.78C113.78 153.17 117.79 89.87 126.86 16.75" stroke="#E76BF3"/><path d="M113.49 227.78C113.78 153.17 119.68 90.25 133.18 18.04" stroke="#9590FF"/><path d="M113.49 227.78C113.78 153.17 123.81 91.65 146.92 22.7" stroke="#00BFC4"/></g><g opacity="0.55"><path d="M27.41 81.54C71.24 101.64 115.61 69.2 117.37 15.78" stroke="#A3A500"/><path d="M27.41 81.54C76.09 103.86 122.53 76.15 133.64 18.15" stroke="#9590FF"/><path d="M27.41 81.54C78.33 104.89 125.03 79.73 140.97 20.35" stroke="#00B0F6"/><path d="M27.41 81.54C80.27 105.78 126.84 82.94 147.18 22.81" stroke="#00BFC4"/><path d="M27.41 81.54C79.42 105.39 126.09 81.52 144.47 21.67" stroke="#00BF7D"/></g><g opacity="0.55"><path d="M85.71 222.78C105.44 151.67 117.8 89.87 126.91 16.76" stroke="#E76BF3"/><path d="M85.71 222.78C105.44 151.67 123.03 91.32 144.33 21.61" stroke="#00BF7D"/><path d="M85.71 222.78C105.44 151.67 121.95 90.92 140.72 20.26" stroke="#00B0F6"/><path d="M85.71 222.78C105.44 151.67 120.94 90.59 137.37 19.18" stroke="#D89000"/></g><g opacity="0.55"><path d="M186.62 54.56C158.04 80.75 115.51 57.2 116.56 15.75" stroke="#A3A500"/><path d="M186.62 54.56C159.6 79.33 119.51 55.22 122.82 16.2" stroke="#39B600"/><path d="M186.62 54.56C158.78 80.08 117.38 56.22 119.54 15.9" stroke="#FF62BC"/><path d="M186.62 54.56C164.97 74.4 134.97 51.14 143.91 21.44" stroke="#00BF7D"/><path d="M186.62 54.56C163.15 76.07 129.48 52.01 136.91 19.04" stroke="#D89000"/></g><g opacity="0.55"><path d="M91.99 17.61C97.76 44.9 128.58 45.33 133.83 18.2" stroke="#9590FF"/><path d="M91.99 17.61C98.83 49.95 136.99 53.62 147.47 22.94" stroke="#00BFC4"/></g><g opacity="0.55"><path d="M179.08 197.36C133.45 144.05 115.67 89.62 119.81 15.92" stroke="#FF62BC"/><path d="M179.08 197.36C133.45 144.05 114.81 89.57 116.93 15.76" stroke="#A3A500"/><path d="M179.08 197.36C133.45 144.05 117.7 89.85 126.56 16.7" stroke="#E76BF3"/><path d="M179.08 197.36C133.45 144.05 120.88 90.58 137.18 19.12" stroke="#D89000"/></g><g opacity="0.55"><path d="M109.46 227.66C112.57 153.14 115.72 89.62 119.97 15.93" stroke="#FF62BC"/><path d="M109.46 227.66C112.57 153.14 114.85 89.57 117.08 15.77" stroke="#A3A500"/><path d="M109.46 227.66C112.57 153.14 121.93 90.91 140.65 20.24" stroke="#00B0F6"/><path d="M109.46 227.66C112.57 153.14 123.01 91.31 144.26 21.58" stroke="#00BF7D"/></g><g opacity="0.55"><path d="M20.78 117.47C79.05 119.8 116.29 81.82 120.28 15.96" stroke="#FF62BC"/><path d="M20.78 117.47C84.67 120.03 121.36 89.21 137.68 19.27" stroke="#D89000"/><path d="M20.78 117.47C85.96 120.08 123.86 91.67 147.09 22.77" stroke="#00BFC4"/></g><g opacity="0.55"><path d="M31.44 170.83C89.16 136.09 115.76 89.62 120.11 15.94" stroke="#FF62BC"/><path d="M31.44 170.83C89.16 136.09 114.91 89.57 117.28 15.78" stroke="#A3A500"/><path d="M31.44 170.83C89.16 136.09 117.83 89.87 127.01 16.78" stroke="#E76BF3"/></g><g opacity="0.55"><path d="M81.89 221.29C104.3 151.23 115.74 89.62 120.03 15.94" stroke="#FF62BC"/><path d="M81.89 221.29C104.3 151.23 119.7 90.26 133.25 18.05" stroke="#9590FF"/><path d="M81.89 221.29C104.3 151.23 123.82 91.66 146.98 22.72" stroke="#00BFC4"/></g><g opacity="0.55"><path d="M47.06 46.95C78.23 81.58 128.4 67.4 141.08 20.39" stroke="#00B0F6"/></g><g opacity="0.55"><path d="M21.98 103.71C76.82 114.14 117.85 78.88 123.69 16.3" stroke="#39B600"/><path d="M21.98 103.71C81.32 115 122.36 85.07 137.76 19.3" stroke="#D89000"/></g><g opacity="0.55"><path d="M88.09 18.79C95.92 49.85 132.96 51.01 141.25 20.45" stroke="#00B0F6"/><path d="M88.09 18.79C96.23 51.1 134.94 53.11 144.63 21.73" stroke="#00BF7D"/></g><g opacity="0.55"><path d="M199.49 163.35C139.58 133.84 114.78 89.57 116.82 15.76" stroke="#A3A500"/><path d="M199.49 163.35C139.58 133.84 116.67 89.71 123.14 16.24" stroke="#39B600"/><path d="M199.49 163.35C145.71 136.87 126.12 84.56 146.77 22.63" stroke="#00BFC4"/></g><g opacity="0.55"><path d="M76.72 23.48C88.53 54.54 127.47 50.93 133.79 18.19" stroke="#9590FF"/><path d="M76.72 23.48C89.51 57.1 131.81 55.11 141.21 20.44" stroke="#00B0F6"/><path d="M76.72 23.48C90.35 59.3 135.14 58.95 147.43 22.92" stroke="#00BFC4"/></g><g opacity="0.55"><path d="M70.83 215.71C100.98 149.55 117.81 89.87 126.94 16.76" stroke="#E76BF3"/><path d="M70.83 215.71C100.98 149.55 118.68 90.03 129.82 17.29" stroke="#F8766D"/><path d="M70.83 215.71C100.98 149.55 121.95 90.92 140.74 20.27" stroke="#00B0F6"/></g><g opacity="0.55"><path d="M34.67 65.1C70.5 90.47 115.81 63.46 117.39 15.78" stroke="#A3A500"/><path d="M34.67 65.1C78.79 96.34 128.67 77.61 147.23 22.83" stroke="#00BFC4"/></g><g opacity="0.55"><path d="M65.97 29.81C83.16 62.58 126.63 55.12 133.75 18.18" stroke="#9590FF"/><path d="M65.97 29.81C84.41 64.97 130.66 59.19 141.15 20.41" stroke="#00B0F6"/><path d="M65.97 29.81C85.49 67.04 133.75 62.95 147.4 22.91" stroke="#00BFC4"/></g><g opacity="0.55"><path d="M22.73 99.18C81.35 113.34 123.54 85.19 140.89 20.32" stroke="#00B0F6"/><path d="M22.73 99.18C83.41 113.84 125.02 88.29 147.14 22.79" stroke="#00BFC4"/></g><g opacity="0.55"><path d="M202.08 86.74C158.73 103.68 116.82 67.67 119.64 15.91" stroke="#FF62BC"/><path d="M202.08 86.74C157.82 104.04 115.26 68.68 116.63 15.75" stroke="#A3A500"/><path d="M202.08 86.74C159.72 103.29 118.6 66.64 122.94 16.21" stroke="#39B600"/></g><g opacity="0.55"><path d="M25.99 85.86C76.66 106.23 122.25 77.55 133.62 18.14" stroke="#9590FF"/><path d="M25.99 85.86C78.94 107.15 124.66 81.09 140.95 20.34" stroke="#00B0F6"/></g><g opacity="0.55"><path d="M197.81 167.54C139.07 135.1 116.68 89.71 123.16 16.24" stroke="#39B600"/><path d="M197.81 167.54C139.07 135.1 117.68 89.85 126.48 16.69" stroke="#E76BF3"/><path d="M197.81 167.54C139.07 135.1 115.64 89.61 119.71 15.91" stroke="#FF62BC"/><path d="M197.81 167.54C139.85 135.53 119.83 89.29 133.08 18.01" stroke="#9590FF"/><path d="M197.81 167.54C139.07 135.1 118.6 90.01 129.58 17.24" stroke="#F8766D"/></g><g opacity="0.55"><path d="M172.41 38.26C154.65 63.44 120.08 48.07 122.78 16.19" stroke="#39B600"/><path d="M172.41 38.26C153.99 64.37 117.72 49.05 119.48 15.9" stroke="#FF62BC"/><path d="M172.41 38.26C155.96 61.58 124.95 46.43 129.28 17.18" stroke="#F8766D"/><path d="M172.41 38.26C157.52 59.37 131.03 45.04 136.88 19.03" stroke="#D89000"/></g><g opacity="0.55"><path d="M21 112.87C81 118.25 119.62 84.41 130.06 17.34" stroke="#F8766D"/><path d="M21 112.87C86.03 118.7 123.86 91.67 147.1 22.78" stroke="#00BFC4"/><path d="M21 112.87C83.48 118.47 121.69 87.83 137.7 19.28" stroke="#D89000"/></g><g opacity="0.55"><path d="M39.21 57.47C75.14 88.13 124.16 67.73 133.66 18.16" stroke="#9590FF"/></g><g opacity="0.55"><path d="M20.84 126.69C84.73 122.92 118.94 88.63 129.99 17.32" stroke="#F8766D"/><path d="M20.84 126.69C85.98 122.85 121.02 90.62 137.62 19.25" stroke="#D89000"/></g><g opacity="0.55"><path d="M23.65 94.69C80.46 111.38 123.91 83.82 140.91 20.33" stroke="#00B0F6"/><path d="M23.65 94.69C78.12 110.69 121.7 80.34 133.58 18.13" stroke="#9590FF"/><path d="M23.65 94.69C82.49 111.97 125.47 86.96 147.16 22.8" stroke="#00BFC4"/></g><g opacity="0.55"><path d="M49.93 43.71C77.22 76.77 125.24 62.12 133.68 18.16" stroke="#9590FF"/><path d="M49.93 43.71C78.89 78.8 128.78 66.04 141.1 20.4" stroke="#00B0F6"/><path d="M49.93 43.71C79.68 79.76 130.29 67.98 144.54 21.69" stroke="#00BF7D"/><path d="M49.93 43.71C80.33 80.54 131.43 69.6 147.31 22.87" stroke="#00BFC4"/></g><g opacity="0.55"><path d="M63.85 211.1C98.88 148.17 118.7 90.03 129.89 17.3" stroke="#F8766D"/><path d="M63.85 211.1C98.88 148.17 114.89 89.57 117.21 15.77" stroke="#A3A500"/><path d="M63.85 211.1C98.88 148.17 123.03 91.33 144.35 21.62" stroke="#00BF7D"/></g><g opacity="0.55"><path d="M189.58 183.38C136.6 139.85 114.79 89.57 116.86 15.76" stroke="#A3A500"/><path d="M189.58 183.38C136.6 139.85 115.66 89.62 119.77 15.92" stroke="#FF62BC"/><path d="M189.58 183.38C136.6 139.85 116.69 89.71 123.21 16.24" stroke="#39B600"/></g><g opacity="0.55"><path d="M28.99 77.3C78.9 103.1 126.51 80.17 144.49 21.68" stroke="#00BF7D"/><path d="M28.99 77.3C77.83 102.55 125.41 78.36 141 20.36" stroke="#00B0F6"/><path d="M28.99 77.3C79.73 103.54 127.3 81.61 147.2 22.82" stroke="#00BFC4"/></g><g opacity="0.55"><path d="M89.58 224.08C106.6 152.06 119.7 90.25 133.22 18.05" stroke="#9590FF"/><path d="M89.58 224.08C106.6 152.06 118.66 90.02 129.75 17.27" stroke="#F8766D"/><path d="M89.58 224.08C106.6 152.06 123.02 91.32 144.3 21.6" stroke="#00BF7D"/><path d="M89.58 224.08C106.6 152.06 123.82 91.65 146.96 22.71" stroke="#00BFC4"/></g><g opacity="0.55"><path d="M93.49 225.19C107.78 152.4 114.87 89.57 117.13 15.77" stroke="#A3A500"/><path d="M93.49 225.19C107.78 152.4 115.73 89.62 120.01 15.94" stroke="#FF62BC"/><path d="M93.49 225.19C107.78 152.4 119.69 90.25 133.2 18.04" stroke="#9590FF"/><path d="M93.49 225.19C107.78 152.4 123.01 91.32 144.28 21.59" stroke="#00BF7D"/><path d="M93.49 225.19C107.78 152.4 121.94 90.92 140.7 20.25" stroke="#00B0F6"/></g><g opacity="0.55"><path d="M42.68 189.92C92.53 141.82 116.82 89.73 123.64 16.3" stroke="#39B600"/><path d="M42.68 189.92C92.53 141.82 123.84 91.66 147.03 22.75" stroke="#00BFC4"/></g><g opacity="0.55"><path d="M155.48 25.82C144.8 50.32 115.82 42.84 116.49 15.75" stroke="#A3A500"/><path d="M155.48 25.82C146.18 47.15 123.44 40.03 126.19 16.65" stroke="#E76BF3"/><path d="M155.48 25.82C145.21 49.38 118.03 41.9 119.38 15.89" stroke="#FF62BC"/><path d="M155.48 25.82C147.72 43.61 132.57 38.08 136.85 19.02" stroke="#D89000"/><path d="M155.48 25.82C148.75 41.25 138.95 37.54 143.79 21.4" stroke="#00BF7D"/></g><g opacity="0.55"><path d="M74.45 217.75C102.06 150.17 114.88 89.57 117.17 15.77" stroke="#A3A500"/><path d="M74.45 217.75C102.06 150.17 119.72 90.26 133.29 18.06" stroke="#9590FF"/><path d="M74.45 217.75C102.06 150.17 118.67 90.02 129.79 17.28" stroke="#F8766D"/><path d="M74.45 217.75C102.06 150.17 116.79 89.72 123.53 16.28" stroke="#39B600"/><path d="M74.45 217.75C102.06 150.17 120.96 90.6 137.43 19.2" stroke="#D89000"/></g><g opacity="0.55"><path d="M44.31 50.33C72.68 79.22 117.69 58.86 120.3 15.96" stroke="#FF62BC"/><path d="M44.31 50.33C77.71 84.34 128.02 68.77 141.06 20.38" stroke="#00B0F6"/><path d="M44.31 50.33C79.28 85.94 130.51 72.27 147.29 22.86" stroke="#00BFC4"/></g></g><path d="M114.88 14.09A93.65 107.12 0 0 1 127.9 15.29" fill="none" stroke="#E6C495" stroke-width="4" stroke-linecap="round"/><path d="M131.61 16.01A93.65 107.12 0 0 1 132.73 16.27" fill="none" stroke="#E6C495" stroke-width="4" stroke-linecap="round"/><path d="M135.45 16.96A93.65 107.12 0 0 1 136.4 17.22" fill="none" stroke="#E6C495" stroke-width="4" stroke-linecap="round"/><path d="M139.09 18.03A93.65 107.12 0 0 1 140.19 18.39" fill="none" stroke="#E6C495" stroke-width="4" stroke-linecap="round"/><path d="M142.53 19.21A93.65 107.12 0 0 1 143.77 19.68" fill="none" stroke="#E6C495" stroke-width="4" stroke-linecap="round"/><path d="M146.24 20.67A93.65 107.12 0 0 1 147.92 21.4" fill="none" stroke="#E6C495" stroke-width="4" stroke-linecap="round"/><circle cx="156.11" cy="24.37" r="1.3" fill="#fd0007"/><circle cx="159.73" cy="26.55" r="1.3" fill="#fd0009"/><circle cx="163.27" cy="28.9" r="1.3" fill="#f0003e"/><circle cx="166.72" cy="31.43" r="1.3" fill="#ef003e"/><circle cx="170.06" cy="34.13" r="1.3" fill="#dd007d"/><circle cx="173.3" cy="36.99" r="1.3" fill="#d80084"/><circle cx="176.43" cy="40.01" r="1.3" fill="#e30070"/><circle cx="179.45" cy="43.18" r="1.3" fill="#d2008b"/><circle cx="182.34" cy="46.5" r="1.3" fill="#c80098"/><circle cx="185.1" cy="49.96" r="1.3" fill="#c5009c"/><circle cx="187.73" cy="53.55" r="1.3" fill="#6f00ea"/><circle cx="190.22" cy="57.26" r="1.3" fill="#7500e6"/><circle cx="192.56" cy="61.1" r="1.3" fill="#8c00d5"/><circle cx="194.76" cy="65.05" r="1.3" fill="#8400db"/><circle cx="196.81" cy="69.1" r="1.3" fill="#8f00d2"/><circle cx="198.71" cy="73.26" r="1.3" fill="#9000d1"/><circle cx="200.44" cy="77.5" r="1.3" fill="#8200dc"/><circle cx="202.01" cy="81.82" r="1.3" fill="#7400e7"/><circle cx="203.42" cy="86.22" r="1.3" fill="#7600e5"/><circle cx="204.66" cy="90.68" r="1.3" fill="#8500da"/><circle cx="205.73" cy="95.2" r="1.3" fill="#7400e7"/><circle cx="206.63" cy="99.77" r="1.3" fill="#8200dc"/><circle cx="207.35" cy="104.38" r="1.3" fill="#2c00f7"/><circle cx="207.9" cy="109.02" r="1.3" fill="#0000ff"/><circle cx="208.27" cy="113.68" r="1.3" fill="#0000ff"/><circle cx="208.47" cy="118.36" r="1.3" fill="#0000ff"/><circle cx="208.49" cy="123.04" r="1.3" fill="#0000ff"/><circle cx="208.33" cy="127.72" r="1.3" fill="#0000ff"/><circle cx="207.99" cy="132.39" r="1.3" fill="#2c00f7"/><circle cx="207.48" cy="137.04" r="1.3" fill="#0000ff"/><circle cx="206.79" cy="141.65" r="1.3" fill="#0000ff"/><circle cx="205.93" cy="146.23" r="1.3" fill="#7a00e2"/><circle cx="204.9" cy="150.76" r="1.3" fill="#0000ff"/><circle cx="203.7" cy="155.24" r="1.3" fill="#0000ff"/><circle cx="202.33" cy="159.65" r="1.3" fill="#0000ff"/><circle cx="200.79" cy="163.99" r="1.3" fill="#7a00e2"/><circle cx="199.09" cy="168.25" r="1.3" fill="#0000ff"/><circle cx="197.23" cy="172.42" r="1.3" fill="#0000ff"/><circle cx="195.21" cy="176.5" r="1.3" fill="#0000ff"/><circle cx="193.05" cy="180.47" r="1.3" fill="#0000ff"/><circle cx="190.73" cy="184.33" r="1.3" fill="#0000ff"/><circle cx="188.27" cy="188.07" r="1.3" fill="#0000ff"/><circle cx="185.67" cy="191.69" r="1.3" fill="#0000ff"/><circle cx="182.94" cy="195.18" r="1.3" fill="#0000ff"/><circle cx="180.07" cy="198.52" r="1.3" fill="#0000ff"/><circle cx="177.09" cy="201.73" r="1.3" fill="#7a00e2"/><circle cx="173.98" cy="204.78" r="1.3" fill="#0000ff"/><circle cx="170.76" cy="207.67" r="1.3" fill="#0000ff"/><circle cx="167.44" cy="210.41" r="1.3" fill="#0000ff"/><circle cx="164.01" cy="212.97" r="1.3" fill="#0000ff"/><circle cx="160.49" cy="215.37" r="1.3" fill="#7a00e2"/><circle cx="156.89" cy="217.58" r="1.3" fill="#0000ff"/><circle cx="153.2" cy="219.62" r="1.3" fill="#0000ff"/><circle cx="149.44" cy="221.47" r="1.3" fill="#0000ff"/><circle cx="145.62" cy="223.14" r="1.3" fill="#0000ff"/><circle cx="141.73" cy="224.61" r="1.3" fill="#0000ff"/><circle cx="137.79" cy="225.89" r="1.3" fill="#7a00e2"/><circle cx="133.81" cy="226.98" r="1.3" fill="#0000ff"/><circle cx="129.79" cy="227.86" r="1.3" fill="#0000ff"/><circle cx="125.74" cy="228.55" r="1.3" fill="#0000ff"/><circle cx="121.67" cy="229.03" r="1.3" fill="#7a00e2"/><circle cx="117.58" cy="229.32" r="1.3" fill="#0000ff"/><circle cx="113.49" cy="229.4" r="1.3" fill="#0000ff"/><circle cx="109.39" cy="229.28" r="1.3" fill="#0000ff"/><circle cx="105.31" cy="228.95" r="1.3" fill="#0000ff"/><circle cx="101.24" cy="228.43" r="1.3" fill="#0000ff"/><circle cx="97.2" cy="227.7" r="1.3" fill="#7a00e2"/><circle cx="93.18" cy="226.77" r="1.3" fill="#0000ff"/><circle cx="89.21" cy="225.65" r="1.3" fill="#0000ff"/><circle cx="85.28" cy="224.33" r="1.3" fill="#0000ff"/><circle cx="81.41" cy="222.82" r="1.3" fill="#8900d7"/><circle cx="77.59" cy="221.11" r="1.3" fill="#8600d9"/><circle cx="73.85" cy="219.22" r="1.3" fill="#7200e8"/><circle cx="70.18" cy="217.15" r="1.3" fill="#7e00df"/><circle cx="66.59" cy="214.9" r="1.3" fill="#8c00d5"/><circle cx="63.09" cy="212.47" r="1.3" fill="#7a00e2"/><circle cx="59.68" cy="209.87" r="1.3" fill="#ea0055"/><circle cx="56.38" cy="207.1" r="1.3" fill="#7700e4"/><circle cx="53.18" cy="204.17" r="1.3" fill="#7d00e0"/><circle cx="50.1" cy="201.09" r="1.3" fill="#8a00d6"/><circle cx="47.14" cy="197.86" r="1.3" fill="#7700e5"/><circle cx="44.3" cy="194.48" r="1.3" fill="#7a00e2"/><circle cx="41.59" cy="190.97" r="1.3" fill="#9000d2"/><circle cx="39.02" cy="187.33" r="1.3" fill="#8100dd"/><circle cx="36.59" cy="183.56" r="1.3" fill="#0000ff"/><circle cx="34.3" cy="179.67" r="1.3" fill="#0000ff"/><circle cx="32.17" cy="175.68" r="1.3" fill="#0000ff"/><circle cx="30.18" cy="171.58" r="1.3" fill="#0000ff"/><circle cx="28.35" cy="167.39" r="1.3" fill="#0000ff"/><circle cx="26.69" cy="163.12" r="1.3" fill="#0000ff"/><circle cx="25.18" cy="158.76" r="1.3" fill="#0000ff"/><circle cx="23.85" cy="154.34" r="1.3" fill="#0000ff"/><circle cx="22.68" cy="149.85" r="1.3" fill="#0000ff"/><circle cx="21.68" cy="145.31" r="1.3" fill="#0000ff"/><circle cx="20.85" cy="140.72" r="1.3" fill="#2c00f7"/><circle cx="20.2" cy="136.1" r="1.3" fill="#e4006b"/><circle cx="19.73" cy="131.45" r="1.3" fill="#e4006d"/><circle cx="19.43" cy="126.78" r="1.3" fill="#ee0043"/><circle cx="19.3" cy="122.1" r="1.3" fill="#0000ff"/><circle cx="19.36" cy="117.41" r="1.3" fill="#0000ff"/><circle cx="19.59" cy="112.74" r="1.3" fill="#0000ff"/><circle cx="20" cy="108.08" r="1.3" fill="#fc000d"/><circle cx="20.58" cy="103.44" r="1.3" fill="#f20036"/><circle cx="21.34" cy="98.84" r="1.3" fill="#8a00d6"/><circle cx="22.27" cy="94.28" r="1.3" fill="#7c00e0"/><circle cx="23.38" cy="89.77" r="1.3" fill="#7600e5"/><circle cx="24.65" cy="85.32" r="1.3" fill="#7900e3"/><circle cx="26.09" cy="80.94" r="1.3" fill="#0000ff"/><circle cx="27.7" cy="76.63" r="1.3" fill="#0000ff"/><circle cx="29.46" cy="72.41" r="1.3" fill="#0000ff"/><circle cx="31.39" cy="68.28" r="1.3" fill="#0000ff"/><circle cx="33.47" cy="64.24" r="1.3" fill="#0000ff"/><circle cx="35.7" cy="60.31" r="1.3" fill="#0000ff"/><circle cx="38.07" cy="56.5" r="1.3" fill="#0000ff"/><circle cx="40.59" cy="52.81" r="1.3" fill="#0000ff"/><circle cx="43.25" cy="49.25" r="1.3" fill="#0000ff"/><circle cx="46.04" cy="45.82" r="1.3" fill="#0000ff"/><circle cx="48.95" cy="42.53" r="1.3" fill="#0000ff"/><circle cx="51.99" cy="39.39" r="1.3" fill="#0000ff"/><circle cx="55.14" cy="36.4" r="1.3" fill="#0000ff"/><circle cx="58.41" cy="33.57" r="1.3" fill="#2c00f7"/><circle cx="61.77" cy="30.91" r="1.3" fill="#0000ff"/><circle cx="65.24" cy="28.41" r="1.3" fill="#2c00f7"/><circle cx="68.79" cy="26.09" r="1.3" fill="#0000ff"/><circle cx="72.43" cy="23.95" r="1.3" fill="#0000ff"/><circle cx="76.15" cy="21.99" r="1.3" fill="#0000ff"/><circle cx="79.94" cy="20.21" r="1.3" fill="#0000ff"/><circle cx="83.79" cy="18.63" r="1.3" fill="#0000ff"/><circle cx="87.7" cy="17.23" r="1.3" fill="#0000ff"/><circle cx="91.66" cy="16.03" r="1.3" fill="#0000ff"/><circle cx="95.66" cy="15.03" r="1.3" fill="#0000ff"/><circle cx="99.69" cy="14.23" r="1.3" fill="#0000ff"/><circle cx="103.75" cy="13.62" r="1.3" fill="#7a00e2"/><circle cx="107.83" cy="13.22" r="1.3" fill="#0000ff"/><circle cx="111.92" cy="13.02" r="1.3" fill="#0000ff"/><g font-size="2.6" fill="#333" stroke="#333" stroke-width="0.18"><text transform="matrix(0.873 0 0 1 155.06 28.39)" text-anchor="end">STAT8</text><text transform="matrix(0.873 0 0 1 160.88 25.78)" text-anchor="start">CLDN9</text><text transform="matrix(0.873 0 0 1 162.04 32.81)" text-anchor="end">SRC12</text><text transform="matrix(0.873 0 0 1 168.04 30.79)" text-anchor="start">ERBB7A</text><text transform="matrix(0.873 0 0 1 168.66 37.91)" text-anchor="end">CLDN18</text><text transform="matrix(0.873 0 0 1 174.79 36.49)" text-anchor="start">EPH19A</text><text transform="matrix(0.873 0 0 1 174.87 43.64)" text-anchor="end">EPH6</text><text transform="matrix(0.873 0 0 1 181.09 42.83)" text-anchor="start">CCL4C</text><text transform="matrix(0.873 0 0 1 180.63 49.97)" text-anchor="end">CAV7C</text><text transform="matrix(0.873 0 0 1 186.88 49.78)" text-anchor="start">TGF5</text><text transform="matrix(0.873 0 0 1 185.88 56.84)" text-anchor="end">ERBB13</text><text transform="matrix(0.873 0 0 1 192.13 57.27)" text-anchor="start">JAK5</text><text transform="matrix(0.873 0 0 1 190.6 64.2)" text-anchor="end">COL12</text><text transform="matrix(0.873 0 0 1 196.79 65.25)" text-anchor="start">IL15</text><text transform="matrix(0.873 0 0 1 194.74 72.01)" text-anchor="end">ERBB4A</text><text transform="matrix(0.873 0 0 1 200.83 73.66)" text-anchor="start">HES</text><text transform="matrix(0.873 0 0 1 198.28 80.19)" text-anchor="end">CLDN2</text><text transform="matrix(0.873 0 0 1 204.22 82.44)" text-anchor="start">LYN10A</text><text transform="matrix(0.873 0 0 1 201.18 88.69)" text-anchor="end">S100A6</text><text transform="matrix(0.873 0 0 1 206.93 91.52)" text-anchor="start">CCL17</text><text transform="matrix(0.873 0 0 1 203.43 97.45)" text-anchor="end">LYN19</text><text transform="matrix(0.873 0 0 1 208.94 100.83)" text-anchor="start">CD10</text><text transform="matrix(0.873 0 0 1 205.01 106.4)" text-anchor="end">APO2</text><text transform="matrix(0.873 0 0 1 210.25 110.32)" text-anchor="start">CLDN11</text><text transform="matrix(0.873 0 0 1 205.91 115.47)" text-anchor="end">PDGF3</text><text transform="matrix(0.873 0 0 1 210.83 119.89)" text-anchor="start">ERBB</text><text transform="matrix(0.873 0 0 1 206.12 124.6)" text-anchor="end">CCL3</text><text transform="matrix(0.873 0 0 1 210.69 129.49)" text-anchor="start">LYN11</text><text transform="matrix(0.873 0 0 1 205.64 133.71)" text-anchor="end">TFF</text><text transform="matrix(0.873 0 0 1 209.82 139.03)" text-anchor="start">SRC7</text><text transform="matrix(0.873 0 0 1 204.47 142.74)" text-anchor="end">CAV</text><text transform="matrix(0.873 0 0 1 208.23 148.46)" text-anchor="start">PTPN2</text><text transform="matrix(0.873 0 0 1 202.63 151.62)" text-anchor="end">S100A18B</text><text transform="matrix(0.873 0 0 1 205.94 157.69)" text-anchor="start">ANXA2C</text><text transform="matrix(0.873 0 0 1 200.12 160.29)" text-anchor="end">KIT10R</text><text transform="matrix(0.873 0 0 1 202.96 166.66)" text-anchor="start">AGR8R</text><text transform="matrix(0.873 0 0 1 196.96 168.67)" text-anchor="end">PAX</text><text transform="matrix(0.873 0 0 1 199.31 175.3)" text-anchor="start">FOXA5</text><text transform="matrix(0.873 0 0 1 193.18 176.71)" text-anchor="end">BMP4</text><text transform="matrix(0.873 0 0 1 195.02 183.55)" text-anchor="start">LAMA5</text><text transform="matrix(0.873 0 0 1 188.81 184.35)" text-anchor="end">JAK</text><text transform="matrix(0.873 0 0 1 190.13 191.34)" text-anchor="start">CXCL10R</text><text transform="matrix(0.873 0 0 1 183.88 191.53)" text-anchor="end">CXCL9</text><text transform="matrix(0.873 0 0 1 184.66 198.63)" text-anchor="start">SOX15</text><text transform="matrix(0.873 0 0 1 178.42 198.19)" text-anchor="end">LAMA15</text><text transform="matrix(0.873 0 0 1 178.66 205.34)" text-anchor="start">GATA3R</text><text transform="matrix(0.873 0 0 1 172.48 204.29)" text-anchor="end">PTPN11</text><text transform="matrix(0.873 0 0 1 172.18 211.43)" text-anchor="start">SERPIN16</text><text transform="matrix(0.873 0 0 1 166.1 209.78)" text-anchor="end">PTPN18</text><text transform="matrix(0.873 0 0 1 165.27 216.87)" text-anchor="start">PDGF</text><text transform="matrix(0.873 0 0 1 159.33 214.61)" text-anchor="end">LCN9</text><text transform="matrix(0.873 0 0 1 157.96 221.59)" text-anchor="start">TGF1R</text><text transform="matrix(0.873 0 0 1 152.22 218.76)" text-anchor="end">ITG6</text><text transform="matrix(0.873 0 0 1 150.33 225.58)" text-anchor="start">FLOT</text><text transform="matrix(0.873 0 0 1 144.82 222.19)" text-anchor="end">LAMA10</text><text transform="matrix(0.873 0 0 1 142.42 228.8)" text-anchor="start">TP12</text><text transform="matrix(0.873 0 0 1 137.19 224.88)" text-anchor="end">VEGF12</text><text transform="matrix(0.873 0 0 1 134.31 233.42)" text-anchor="middle">NOTCH2R</text><text transform="matrix(0.873 0 0 1 129.39 226)" text-anchor="middle">FGF</text><text transform="matrix(0.873 0 0 1 126.03 235.03)" text-anchor="middle">PTPN10</text><text transform="matrix(0.873 0 0 1 121.47 227.14)" text-anchor="middle">LCN8R</text><text transform="matrix(0.873 0 0 1 117.67 235.82)" text-anchor="middle">LCNA</text><text transform="matrix(0.873 0 0 1 113.5 227.49)" text-anchor="middle">SRC7</text><text transform="matrix(0.873 0 0 1 109.28 235.78)" text-anchor="middle">CD20</text><text transform="matrix(0.873 0 0 1 105.52 227.06)" text-anchor="middle">CAV10A</text><text transform="matrix(0.873 0 0 1 100.92 234.91)" text-anchor="middle">CAV11A</text><text transform="matrix(0.873 0 0 1 97.61 225.84)" text-anchor="middle">AGRB</text><text transform="matrix(0.873 0 0 1 92.67 233.21)" text-anchor="middle">EPH15</text><text transform="matrix(0.873 0 0 1 89.83 224.64)" text-anchor="start">CLDN7</text><text transform="matrix(0.873 0 0 1 84.57 228.51)" text-anchor="end">ANXA15</text><text transform="matrix(0.873 0 0 1 82.22 221.88)" text-anchor="start">ANXA</text><text transform="matrix(0.873 0 0 1 76.68 225.21)" text-anchor="end">ERBB</text><text transform="matrix(0.873 0 0 1 74.85 218.37)" text-anchor="start">FGF11</text><text transform="matrix(0.873 0 0 1 69.08 221.15)" text-anchor="end">FOXA14</text><text transform="matrix(0.873 0 0 1 67.77 214.15)" text-anchor="start">STAT5</text><text transform="matrix(0.873 0 0 1 61.82 216.35)" text-anchor="end">SHH1</text><text transform="matrix(0.873 0 0 1 61.04 209.25)" text-anchor="start">CCL15</text><text transform="matrix(0.873 0 0 1 54.94 210.85)" text-anchor="end">ITG12</text><text transform="matrix(0.873 0 0 1 54.7 203.7)" text-anchor="start">KIT8</text><text transform="matrix(0.873 0 0 1 48.51 204.69)" text-anchor="end">ERBB8B</text><text transform="matrix(0.873 0 0 1 48.81 197.54)" text-anchor="start">S100A8</text><text transform="matrix(0.873 0 0 1 42.56 197.91)" text-anchor="end">NOTCH7</text><text transform="matrix(0.873 0 0 1 43.4 190.83)" text-anchor="start">NOTCH8</text><text transform="matrix(0.873 0 0 1 37.15 190.58)" text-anchor="end">CCL4</text><text transform="matrix(0.873 0 0 1 38.52 183.6)" text-anchor="start">APO14</text><text transform="matrix(0.873 0 0 1 32.31 182.74)" text-anchor="end">SRC17</text><text transform="matrix(0.873 0 0 1 34.21 175.92)" text-anchor="start">SOX17R</text><text transform="matrix(0.873 0 0 1 28.09 174.44)" text-anchor="end">ANXA7</text><text transform="matrix(0.873 0 0 1 30.49 167.84)" text-anchor="start">TGF20B</text><text transform="matrix(0.873 0 0 1 24.51 165.77)" text-anchor="end">FGF1</text><text transform="matrix(0.873 0 0 1 27.4 159.42)" text-anchor="start">CXCL4</text><text transform="matrix(0.873 0 0 1 21.59 156.77)" text-anchor="end">LYNB</text><text transform="matrix(0.873 0 0 1 24.96 150.73)" text-anchor="start">SERPIN12C</text><text transform="matrix(0.873 0 0 1 19.37 147.51)" text-anchor="end">CLDN9C</text><text transform="matrix(0.873 0 0 1 23.18 141.83)" text-anchor="start">CAV12</text><text transform="matrix(0.873 0 0 1 17.86 138.07)" text-anchor="end">KRT</text><text transform="matrix(0.873 0 0 1 22.08 132.79)" text-anchor="start">PDGF20B</text><text transform="matrix(0.873 0 0 1 17.06 128.52)" text-anchor="end">NOTCH15R</text><text transform="matrix(0.873 0 0 1 21.67 123.67)" text-anchor="start">SOX16C</text><text transform="matrix(0.873 0 0 1 16.99 118.92)" text-anchor="end">COL10</text><text transform="matrix(0.873 0 0 1 21.95 114.55)" text-anchor="start">AGR5</text><text transform="matrix(0.873 0 0 1 17.65 109.35)" text-anchor="end">NOTCH9</text><text transform="matrix(0.873 0 0 1 22.92 105.49)" text-anchor="start">CD5</text><text transform="matrix(0.873 0 0 1 19.03 99.88)" text-anchor="end">STAT</text><text transform="matrix(0.873 0 0 1 24.56 96.56)" text-anchor="start">KRT20</text><text transform="matrix(0.873 0 0 1 21.11 90.59)" text-anchor="end">CLDN16</text><text transform="matrix(0.873 0 0 1 26.88 87.82)" text-anchor="start">TFF</text><text transform="matrix(0.873 0 0 1 23.9 81.53)" text-anchor="end">TF12</text><text transform="matrix(0.873 0 0 1 29.85 79.35)" text-anchor="start">CXCL5</text><text transform="matrix(0.873 0 0 1 27.35 72.79)" text-anchor="end">KRT12</text><text transform="matrix(0.873 0 0 1 33.45 71.2)" text-anchor="start">SHH13</text><text transform="matrix(0.873 0 0 1 31.46 64.42)" text-anchor="end">TP19</text><text transform="matrix(0.873 0 0 1 37.65 63.44)" text-anchor="start">CCL15</text><text transform="matrix(0.873 0 0 1 36.18 56.48)" text-anchor="end">ALB5</text><text transform="matrix(0.873 0 0 1 42.43 56.12)" text-anchor="start">ITG9C</text><text transform="matrix(0.873 0 0 1 41.48 49.05)" text-anchor="end">PDGF17</text><text transform="matrix(0.873 0 0 1 47.73 49.3)" text-anchor="start">PAXA</text><text transform="matrix(0.873 0 0 1 47.33 42.16)" text-anchor="end">MMP19</text><text transform="matrix(0.873 0 0 1 53.54 43.03)" text-anchor="start">VEGF8</text><text transform="matrix(0.873 0 0 1 53.67 35.88)" text-anchor="end">ITG10</text><text transform="matrix(0.873 0 0 1 59.79 37.36)" text-anchor="start">SHH17</text><text transform="matrix(0.873 0 0 1 60.47 30.25)" text-anchor="end">BMP18</text><text transform="matrix(0.873 0 0 1 66.45 32.33)" text-anchor="start">SHH11</text><text transform="matrix(0.873 0 0 1 67.66 25.31)" text-anchor="end">STAT8</text><text transform="matrix(0.873 0 0 1 73.47 27.98)" text-anchor="start">PDGF7R</text><text transform="matrix(0.873 0 0 1 75.21 21.11)" text-anchor="end">ERBB19</text><text transform="matrix(0.873 0 0 1 80.79 24.34)" text-anchor="start">LAMA5</text><text transform="matrix(0.873 0 0 1 83.04 17.66)" text-anchor="end">FOXA19</text><text transform="matrix(0.873 0 0 1 88.35 21.43)" text-anchor="start">SHH7</text><text transform="matrix(0.873 0 0 1 91.1 14.2)" text-anchor="middle">TGF10</text><text transform="matrix(0.873 0 0 1 96.11 21.49)" text-anchor="middle">JAK14</text><text transform="matrix(0.873 0 0 1 99.33 12.35)" text-anchor="middle">EGF</text><text transform="matrix(0.873 0 0 1 104 20.11)" text-anchor="middle">COL9</text><text transform="matrix(0.873 0 0 1 107.68 11.32)" text-anchor="middle">LAMA8</text><text transform="matrix(0.873 0 0 1 111.97 19.53)" text-anchor="middle">CXCL15</text></g><g font-size="2.35" fill="#333" stroke="#333" stroke-width="0.12"><text transform="matrix(0.873 0 0 1 101 10.8)">epithelial cell proliferation</text><text transform="matrix(0.873 0 0 1 133 13.2)">peptidyl-tyrosine phosphorylation</text><text transform="matrix(0.873 0 0 1 144.6 18)">leukocyte proliferation</text><text transform="matrix(0.873 0 0 1 147 21.4)">gland development</text><text transform="matrix(0.873 0 0 1 155 23.8)">regulation of secretion</text></g><text transform="matrix(0.873 0 0 1 219.6 48.9)" font-size="3.5" fill="#222" stroke="#222" stroke-width="0.14">size</text><ellipse cx="222.7" cy="54" rx="0.72" ry="0.8" fill="#000"/><text transform="matrix(0.873 0 0 1 228 55)" font-size="2.8" fill="#444" stroke="#444" stroke-width="0.14">20</text><ellipse cx="222.7" cy="59.8" rx="1.44" ry="1.6" fill="#000"/><text transform="matrix(0.873 0 0 1 228 60.8)" font-size="2.8" fill="#444" stroke="#444" stroke-width="0.14">30</text><ellipse cx="222.7" cy="66" rx="1.8" ry="2" fill="#000"/><text transform="matrix(0.873 0 0 1 228 67)" font-size="2.8" fill="#444" stroke="#444" stroke-width="0.14">35</text><ellipse cx="222.7" cy="72.5" rx="2.07" ry="2.3" fill="#000"/><text transform="matrix(0.873 0 0 1 228 73.5)" font-size="2.8" fill="#444" stroke="#444" stroke-width="0.14">40</text><ellipse cx="222.7" cy="79" rx="2.34" ry="2.6" fill="#000"/><text transform="matrix(0.873 0 0 1 228 80)" font-size="2.8" fill="#444" stroke="#444" stroke-width="0.14">45</text><ellipse cx="222.7" cy="86.5" rx="2.7" ry="3" fill="#000"/><text transform="matrix(0.873 0 0 1 228 87.5)" font-size="2.8" fill="#444" stroke="#444" stroke-width="0.14">50</text><text transform="matrix(0.873 0 0 1 219.6 95.8)" font-size="3.58" fill="#222" stroke="#222" stroke-width="0.14">Log2 fold change</text><rect x="220" y="98.7" width="5" height="29.7" fill="url(#gfc)"/><text transform="matrix(0.873 0 0 1 227 103.5)" font-size="2.6" fill="#444" stroke="#444" stroke-width="0.14">6</text><text transform="matrix(0.873 0 0 1 227 114)" font-size="2.6" fill="#444" stroke="#444" stroke-width="0.14">4</text><text transform="matrix(0.873 0 0 1 227 124.5)" font-size="2.6" fill="#444" stroke="#444" stroke-width="0.14">2</text><text transform="matrix(0.873 0 0 1 219.6 134.7)" font-size="3.7" fill="#222" stroke="#222" stroke-width="0.14">category</text><line x1="220" y1="140" x2="224" y2="140" stroke="#F8766D" stroke-opacity="0.55" stroke-width="0.9"/><text transform="matrix(0.873 0 0 1 226 141.05)" font-size="3.03" fill="#333" stroke="#333" stroke-width="0.14">digestive system development</text><line x1="220" y1="146.05" x2="224" y2="146.05" stroke="#D89000" stroke-opacity="0.55" stroke-width="0.9"/><text transform="matrix(0.873 0 0 1 226 147.1)" font-size="3.03" fill="#333" stroke="#333" stroke-width="0.14">digestive tract development</text><line x1="220" y1="152.1" x2="224" y2="152.1" stroke="#A3A500" stroke-opacity="0.55" stroke-width="0.9"/><text transform="matrix(0.873 0 0 1 226 153.15)" font-size="3.03" fill="#333" stroke="#333" stroke-width="0.14">epithelial cell proliferation</text><line x1="220" y1="158.15" x2="224" y2="158.15" stroke="#39B600" stroke-opacity="0.55" stroke-width="0.9"/><text transform="matrix(0.873 0 0 1 226 159.2)" font-size="3.03" fill="#333" stroke="#333" stroke-width="0.14">gland development</text><line x1="220" y1="164.2" x2="224" y2="164.2" stroke="#00BF7D" stroke-opacity="0.55" stroke-width="0.9"/><text transform="matrix(0.873 0 0 1 226 165.25)" font-size="3.03" fill="#333" stroke="#333" stroke-width="0.14">leukocyte proliferation</text><line x1="220" y1="170.25" x2="224" y2="170.25" stroke="#00BFC4" stroke-opacity="0.55" stroke-width="0.9"/><text transform="matrix(0.873 0 0 1 226 171.3)" font-size="3.03" fill="#333" stroke="#333" stroke-width="0.14">peptidyl-tyrosine modification</text><line x1="220" y1="176.3" x2="224" y2="176.3" stroke="#00B0F6" stroke-opacity="0.55" stroke-width="0.9"/><text transform="matrix(0.873 0 0 1 226 177.35)" font-size="3.03" fill="#333" stroke="#333" stroke-width="0.14">peptidyl-tyrosine phosphorylation</text><line x1="220" y1="182.35" x2="224" y2="182.35" stroke="#9590FF" stroke-opacity="0.55" stroke-width="0.9"/><text transform="matrix(0.873 0 0 1 226 183.4)" font-size="3.03" fill="#333" stroke="#333" stroke-width="0.14">positive regulation of cell adhesion</text><line x1="220" y1="188.4" x2="224" y2="188.4" stroke="#E76BF3" stroke-opacity="0.55" stroke-width="0.9"/><text transform="matrix(0.873 0 0 1 226 189.45)" font-size="3.03" fill="#333" stroke="#333" stroke-width="0.14">positive regulation of secretion</text><line x1="220" y1="194.45" x2="224" y2="194.45" stroke="#FF62BC" stroke-opacity="0.55" stroke-width="0.9"/><text transform="matrix(0.873 0 0 1 226 195.5)" font-size="3.03" fill="#333" stroke="#333" stroke-width="0.14">regulation of epithelial cell proliferation</text><g fill="none" stroke-width="0.85"><g opacity="0.55"><path d="M205.48 428.71C143.7 402.91 118.81 355.02 128.48 280.49" stroke="#00B0F6" stroke-width="1.36"/><path d="M205.48 428.71C141.59 402.03 115.77 357.25 119.44 279.42" stroke="#00BFC4" stroke-width="1.36"/><path d="M205.48 428.71C142.2 402.29 117.07 356.6 123.54 279.78" stroke="#00BF7D" stroke-width="1.36"/></g><g opacity="0.55"><path d="M65.27 293.46C87.06 336.72 139.92 336.51 160.56 293.09" stroke="#F8766D"/></g><g opacity="0.55"><path d="M23.91 349.43C79.91 374.96 128.11 351.5 150.81 287.66" stroke="#A3A500"/></g><g opacity="0.55"><path d="M210.06 373.24C157.17 382.82 116.17 340.74 118.6 279.37" stroke="#00BFC4" stroke-width="1.36"/><path d="M210.06 373.24C160.01 382.3 120.6 337.91 127.58 280.34" stroke="#00B0F6" stroke-width="1.36"/><path d="M210.06 373.24C158.48 382.58 118.14 339.37 122.74 279.7" stroke="#00BF7D" stroke-width="1.36"/></g><g opacity="0.55"><path d="M197.2 332.35C163.88 355.73 121.85 324.54 126.98 280.25" stroke="#00B0F6" stroke-width="1.36"/><path d="M197.2 332.35C162.57 356.65 118.86 325.93 122.2 279.64" stroke="#00BF7D" stroke-width="1.36"/><path d="M197.2 332.35C161.44 357.44 116.39 327.28 118.04 279.34" stroke="#00BFC4" stroke-width="1.36"/><path d="M197.2 332.35C169.05 352.1 134.83 321.01 145.41 285.3" stroke="#39B600"/></g><g opacity="0.55"><path d="M100.74 279.2C105.11 315.35 145.85 324.94 161.06 293.41" stroke="#F8766D"/></g><g opacity="0.55"><path d="M182.44 470.56C134.67 414.59 119.29 357.72 131.17 281.01" stroke="#FF62BC"/><path d="M182.44 470.56C134.67 414.59 120.19 357.93 134.18 281.69" stroke="#E76BF3"/><path d="M182.44 470.56C134.67 414.59 124.67 359.48 149.09 286.86" stroke="#A3A500"/><path d="M182.44 470.56C134.67 414.59 121.24 358.21 137.66 282.63" stroke="#D89000"/></g><g opacity="0.55"><path d="M170.04 482.59C130.95 418.2 119.36 357.74 131.41 281.06" stroke="#FF62BC"/><path d="M170.04 482.59C130.95 418.2 120.27 357.95 134.44 281.76" stroke="#E76BF3"/><path d="M170.04 482.59C130.95 418.2 121.31 358.23 137.89 282.7" stroke="#D89000"/></g><g opacity="0.55"><path d="M27.25 440.5C88.11 405.57 124.87 359.57 149.76 287.17" stroke="#A3A500"/><path d="M27.25 440.5C88.11 405.57 123.94 359.16 146.68 285.82" stroke="#39B600"/></g><g opacity="0.55"><path d="M44.15 312.77C81.39 354.15 135.75 344.82 160.21 292.86" stroke="#F8766D"/></g><g opacity="0.55"><path d="M22.08 355.31C80.78 377.8 127.43 353.24 150.68 287.6" stroke="#A3A500"/></g><g opacity="0.55"><path d="M63.08 486.21C98.87 419.28 119.85 357.84 133.02 281.41" stroke="#FF62BC"/><path d="M63.08 486.21C98.87 419.28 120.75 358.07 136.04 282.17" stroke="#E76BF3"/><path d="M63.08 486.21C98.87 419.28 121.75 358.36 139.38 283.15" stroke="#D89000"/><path d="M63.08 486.21C98.87 419.28 126.67 360.49 155.76 290.22" stroke="#9590FF"/></g><g opacity="0.55"><path d="M54.25 479.04C96.21 417.13 124.75 359.52 149.36 286.98" stroke="#A3A500"/><path d="M54.25 479.04C96.21 417.13 123.74 359.08 146 285.54" stroke="#39B600"/></g><g opacity="0.55"><path d="M20.53 361.3C81.82 380.47 126.77 354.97 150.55 287.54" stroke="#A3A500"/></g><g opacity="0.55"><path d="M40.53 317.41C80.97 357.58 134.92 346.49 160.14 292.82" stroke="#F8766D"/></g><g opacity="0.55"><path d="M29.78 446.03C88.87 407.23 123.92 359.15 146.6 285.78" stroke="#39B600"/></g><g opacity="0.55"><path d="M111.49 278.16C112.28 310.76 147.57 321.65 161.2 293.5" stroke="#F8766D"/></g><g opacity="0.55"><path d="M174.37 478.85C132.25 417.07 119.34 357.73 131.33 281.04" stroke="#FF62BC"/><path d="M174.37 478.85C132.25 417.07 120.25 357.94 134.35 281.73" stroke="#E76BF3"/><path d="M174.37 478.85C132.25 417.07 121.28 358.22 137.82 282.67" stroke="#D89000"/></g><g opacity="0.55"><path d="M17.19 392.25C85.1 391.09 124.91 359.59 149.89 287.23" stroke="#A3A500"/></g><g opacity="0.55"><path d="M199.86 337.79C164.01 359.89 121.69 326.45 127.08 280.26" stroke="#00B0F6" stroke-width="1.36"/><path d="M199.86 337.79C162.65 360.73 118.78 327.85 122.29 279.65" stroke="#00BF7D" stroke-width="1.36"/></g><g opacity="0.55"><path d="M176.16 304.04C157.72 329.79 122.9 313.04 126.58 280.18" stroke="#00B0F6" stroke-width="1.36"/><path d="M176.16 304.04C155.87 332.39 116.41 315.76 117.49 279.32" stroke="#00BFC4" stroke-width="1.36"/><path d="M176.16 304.04C156.72 331.2 119.32 314.42 121.66 279.59" stroke="#00BF7D" stroke-width="1.36"/><path d="M176.16 304.04C159.9 326.75 131.1 310.84 137.11 282.47" stroke="#D89000"/></g><g opacity="0.55"><path d="M180.21 308.16C158.36 335.45 119.25 316.34 121.75 279.6" stroke="#00BF7D" stroke-width="1.36"/><path d="M180.21 308.16C159.44 334.11 122.75 314.95 126.68 280.2" stroke="#00B0F6" stroke-width="1.36"/><path d="M180.21 308.16C157.46 336.58 116.41 317.68 117.58 279.32" stroke="#00BFC4" stroke-width="1.36"/><path d="M180.21 308.16C163.55 328.97 137.34 311.8 145.16 285.2" stroke="#39B600"/></g><g opacity="0.55"><path d="M140.97 498.72C122.23 423.04 119.5 357.77 131.87 281.16" stroke="#FF62BC"/><path d="M140.97 498.72C122.23 423.04 120.37 357.97 134.78 281.84" stroke="#E76BF3"/><path d="M140.97 498.72C122.23 423.04 121.43 358.26 138.28 282.81" stroke="#D89000"/></g><g opacity="0.55"><path d="M207.8 361C162.15 375.44 120.95 334.1 127.38 280.31" stroke="#00B0F6" stroke-width="1.36"/><path d="M207.8 361C159.39 376.31 116.24 336.9 118.42 279.36" stroke="#00BFC4" stroke-width="1.36"/></g><g opacity="0.55"><path d="M79.87 285.39C93.38 326.79 142.45 331.54 160.77 293.22" stroke="#F8766D"/></g><g opacity="0.55"><path d="M194.28 327.09C162.25 352.49 118.95 324.01 122.11 279.63" stroke="#00BF7D" stroke-width="1.36"/><path d="M194.28 327.09C161.16 353.36 116.4 325.36 117.95 279.34" stroke="#00BFC4" stroke-width="1.36"/><path d="M194.28 327.09C168.5 347.53 135.31 319.17 145.33 285.27" stroke="#39B600"/></g><g opacity="0.55"><path d="M17.63 379.75C85.23 387.35 124.99 359.63 150.15 287.35" stroke="#A3A500"/></g><g opacity="0.55"><path d="M32.56 451.39C89.71 408.84 123.89 359.14 146.51 285.75" stroke="#39B600"/></g><g opacity="0.55"><path d="M58.58 482.77C97.51 418.25 123.72 359.07 145.92 285.5" stroke="#39B600"/></g><g opacity="0.55"><path d="M209.68 410.6C147.13 397.5 115.91 352.24 119.16 279.4" stroke="#00BFC4" stroke-width="1.36"/><path d="M209.68 410.6C148.43 397.77 117.45 350.86 123.27 279.75" stroke="#00BF7D" stroke-width="1.36"/><path d="M209.68 410.6C149.98 398.09 119.44 349.32 128.18 280.44" stroke="#00B0F6" stroke-width="1.36"/><path d="M209.68 410.6C152.88 398.7 123.54 346.81 137.27 282.51" stroke="#D89000"/></g><g opacity="0.55"><path d="M130.45 501.5C119.07 423.87 119.55 357.78 132.02 281.19" stroke="#FF62BC"/><path d="M130.45 501.5C119.07 423.87 120.42 357.99 134.94 281.88" stroke="#E76BF3"/><path d="M130.45 501.5C119.07 423.87 121.47 358.28 138.44 282.86" stroke="#D89000"/><path d="M130.45 501.5C119.07 423.87 123.67 359.05 145.75 285.43" stroke="#39B600"/></g><g opacity="0.55"><path d="M192.95 456.3C137.83 410.31 119.22 357.71 130.94 280.96" stroke="#FF62BC"/><path d="M192.95 456.3C137.83 410.31 120.12 357.91 133.93 281.63" stroke="#E76BF3"/><path d="M192.95 456.3C137.83 410.31 121.17 358.19 137.42 282.56" stroke="#D89000"/><path d="M192.95 456.3C139.59 411.78 126.97 357.9 153.81 289.17" stroke="#9590FF"/></g><g opacity="0.55"><path d="M28.41 338.06C81.43 370.53 131.64 353.18 159.85 292.64" stroke="#F8766D"/></g><g opacity="0.55"><path d="M210.49 404.42C150.38 395.79 117.58 348.95 123.18 279.74" stroke="#00BF7D" stroke-width="1.36"/><path d="M210.49 404.42C151.94 396.01 119.64 347.42 128.08 280.42" stroke="#00B0F6" stroke-width="1.36"/><path d="M210.49 404.42C149.07 395.6 115.96 350.33 119.07 279.4" stroke="#00BFC4" stroke-width="1.36"/><path d="M210.49 404.42C157.63 396.83 128.36 343.13 145.58 285.37" stroke="#39B600"/></g><g opacity="0.55"><path d="M82.54 496.93C104.7 422.5 119.75 357.82 132.71 281.34" stroke="#FF62BC"/><path d="M82.54 496.93C104.7 422.5 120.65 358.04 135.7 282.08" stroke="#E76BF3"/><path d="M82.54 496.93C104.7 422.5 121.68 358.34 139.14 283.08" stroke="#D89000"/><path d="M82.54 496.93C104.7 422.5 126.52 360.41 155.27 289.95" stroke="#9590FF"/></g><g opacity="0.55"><path d="M31.06 332.61C81 367.45 132.46 351.5 159.92 292.68" stroke="#F8766D"/></g><g opacity="0.55"><path d="M33.97 327.34C80.78 364.25 133.28 349.83 160 292.73" stroke="#F8766D"/></g><g opacity="0.55"><path d="M114.33 503.09C114.24 424.35 119.62 357.79 132.25 281.24" stroke="#FF62BC"/><path d="M114.33 503.09C114.24 424.35 120.5 358 135.2 281.95" stroke="#E76BF3"/><path d="M114.33 503.09C114.24 424.35 127.79 361.15 159.5 292.42" stroke="#F8766D"/><path d="M114.33 503.09C114.24 424.35 121.54 358.3 138.68 282.93" stroke="#D89000"/></g><g opacity="0.55"><path d="M17.42 398.5C85.17 392.97 124.12 359.24 147.27 286.06" stroke="#39B600"/></g><g opacity="0.55"><path d="M95.42 280.24C101.84 317.95 145 326.59 160.99 293.36" stroke="#F8766D"/></g><g opacity="0.55"><path d="M165.54 486.05C129.6 419.23 119.38 357.74 131.48 281.07" stroke="#FF62BC"/><path d="M165.54 486.05C129.6 419.23 121.33 358.24 137.97 282.72" stroke="#D89000"/></g><g opacity="0.55"><path d="M47.99 308.38C82.05 350.67 136.58 343.16 160.28 292.91" stroke="#F8766D"/></g><g opacity="0.55"><path d="M17.26 385.99C85.12 389.22 124.95 359.61 150.02 287.29" stroke="#A3A500"/></g><g opacity="0.55"><path d="M207.17 422.77C145.84 401.55 119.03 353.12 128.38 280.48" stroke="#00B0F6" stroke-width="1.36"/><path d="M207.17 422.77C143.07 400.59 115.8 356.08 119.35 279.42" stroke="#00BFC4" stroke-width="1.36"/><path d="M207.17 422.77C144.32 401.02 117.2 354.69 123.45 279.77" stroke="#00BF7D" stroke-width="1.36"/></g><g opacity="0.55"><path d="M198.76 445.76C139.57 407.15 115.83 357.25 119.63 279.43" stroke="#00BFC4" stroke-width="1.36"/><path d="M198.76 445.76C139.57 407.15 118.57 357.58 128.78 280.55" stroke="#00B0F6" stroke-width="1.36"/><path d="M198.76 445.76C139.57 407.15 117.08 357.36 123.81 279.81" stroke="#00BF7D" stroke-width="1.36"/></g><g opacity="0.55"><path d="M92.92 500.35C107.82 423.52 119.71 357.81 132.56 281.31" stroke="#FF62BC"/><path d="M92.92 500.35C107.82 423.52 120.6 358.03 135.53 282.04" stroke="#E76BF3"/><path d="M92.92 500.35C107.82 423.52 121.64 358.33 138.99 283.03" stroke="#D89000"/><path d="M92.92 500.35C107.82 423.52 123.69 359.06 145.83 285.47" stroke="#39B600"/></g><g opacity="0.55"><path d="M70.01 290.46C88.92 333.33 140.76 334.85 160.63 293.13" stroke="#F8766D"/></g><g opacity="0.55"><path d="M98.22 501.55C109.4 423.89 119.68 357.81 132.48 281.29" stroke="#FF62BC"/><path d="M98.22 501.55C109.4 423.89 120.58 358.02 135.45 282.02" stroke="#E76BF3"/><path d="M98.22 501.55C109.4 423.89 121.61 358.32 138.91 283" stroke="#D89000"/></g><g opacity="0.55"><path d="M203.52 434.54C142.18 404.36 119.4 356.24 130.79 280.93" stroke="#FF62BC"/><path d="M203.52 434.54C141.52 404.04 118.6 356.92 128.58 280.51" stroke="#00B0F6" stroke-width="1.36"/><path d="M203.52 434.54C140.99 403.78 117.03 357.36 123.63 279.79" stroke="#00BF7D" stroke-width="1.36"/><path d="M203.52 434.54C144.14 405.33 121.96 354.37 137.35 282.54" stroke="#D89000"/></g><g opacity="0.55"><path d="M209.08 367.08C158.37 379.65 116.21 338.82 118.51 279.37" stroke="#00BFC4" stroke-width="1.36"/><path d="M209.08 367.08C159.66 379.33 118.25 337.46 122.65 279.69" stroke="#00BF7D" stroke-width="1.36"/><path d="M209.08 367.08C161.17 378.96 120.78 336 127.48 280.32" stroke="#00B0F6" stroke-width="1.36"/></g><g opacity="0.55"><path d="M38.89 461.52C91.61 411.88 127.83 361.17 159.64 292.51" stroke="#F8766D"/><path d="M38.89 461.52C91.61 411.88 124.83 359.55 149.62 287.11" stroke="#A3A500"/><path d="M38.89 461.52C91.61 411.88 123.84 359.12 146.34 285.68" stroke="#39B600"/></g><g opacity="0.55"><path d="M21.31 423.07C86.33 400.34 124.02 359.2 146.93 285.92" stroke="#39B600"/></g><g opacity="0.55"><path d="M19.89 417.03C85.91 398.53 124.05 359.21 147.02 285.96" stroke="#39B600"/></g><g opacity="0.55"><path d="M26.02 343.67C79.2 371.97 128.78 349.77 150.94 287.73" stroke="#A3A500"/><path d="M26.02 343.67C78.09 371.38 127.78 347.8 147.35 286.1" stroke="#39B600"/></g><g opacity="0.55"><path d="M119.73 502.9C115.86 424.29 119.59 357.79 132.17 281.22" stroke="#FF62BC"/><path d="M119.73 502.9C115.86 424.29 120.47 358 135.11 281.93" stroke="#E76BF3"/><path d="M119.73 502.9C115.86 424.29 127.77 361.13 159.43 292.37" stroke="#F8766D"/><path d="M119.73 502.9C115.86 424.29 121.52 358.29 138.6 282.91" stroke="#D89000"/></g><g opacity="0.55"><path d="M160.89 489.21C128.21 420.18 119.41 357.75 131.56 281.09" stroke="#FF62BC"/><path d="M160.89 489.21C128.21 420.18 126.16 360.21 154.05 289.3" stroke="#9590FF"/></g><g opacity="0.55"><path d="M208.57 416.73C145.13 399.16 115.86 354.16 119.25 279.41" stroke="#00BFC4" stroke-width="1.36"/><path d="M208.57 416.73C146.4 399.52 117.33 352.78 123.36 279.76" stroke="#00BF7D" stroke-width="1.36"/><path d="M208.57 416.73C147.94 399.94 119.23 351.22 128.28 280.46" stroke="#00B0F6" stroke-width="1.36"/></g><g opacity="0.55"><path d="M103.56 502.41C111.01 424.14 119.66 357.8 132.4 281.27" stroke="#FF62BC"/><path d="M103.56 502.41C111.01 424.14 120.55 358.02 135.37 281.99" stroke="#E76BF3"/><path d="M103.56 502.41C111.01 424.14 121.59 358.31 138.83 282.98" stroke="#D89000"/></g><g opacity="0.55"><path d="M184.06 312.55C158.78 340.8 116.42 319.6 117.67 279.33" stroke="#00BFC4" stroke-width="1.36"/><path d="M184.06 312.55C160.87 338.46 122.61 316.86 126.78 280.21" stroke="#00B0F6" stroke-width="1.36"/><path d="M184.06 312.55C159.74 339.73 119.18 318.26 121.84 279.61" stroke="#00BF7D" stroke-width="1.36"/></g><g opacity="0.55"><path d="M135.74 500.28C120.66 423.5 119.52 357.77 131.94 281.17" stroke="#FF62BC"/><path d="M135.74 500.28C120.66 423.5 120.4 357.98 134.86 281.86" stroke="#E76BF3"/><path d="M135.74 500.28C120.66 423.5 127.73 361.11 159.28 292.29" stroke="#F8766D"/><path d="M135.74 500.28C120.66 423.5 126.38 360.33 154.79 289.69" stroke="#9590FF"/><path d="M135.74 500.28C120.66 423.5 121.45 358.27 138.36 282.84" stroke="#D89000"/></g><g opacity="0.55"><path d="M90.16 281.62C98.79 320.74 144.14 328.24 160.91 293.32" stroke="#F8766D"/></g><g opacity="0.55"><path d="M201.27 440.23C140.32 405.49 119.2 357.7 130.87 280.94" stroke="#FF62BC"/><path d="M201.27 440.23C140.32 405.49 118.54 357.58 128.68 280.53" stroke="#00B0F6" stroke-width="1.36"/><path d="M201.27 440.23C140.32 405.49 117.06 357.36 123.72 279.8" stroke="#00BF7D" stroke-width="1.36"/><path d="M201.27 440.23C140.32 405.49 115.8 357.25 119.53 279.43" stroke="#00BFC4" stroke-width="1.36"/><path d="M201.27 440.23C145.35 408.35 126.63 353.47 148.96 286.8" stroke="#A3A500"/><path d="M201.27 440.23C144.34 407.78 125.09 354.18 145.67 285.4" stroke="#39B600"/></g><g opacity="0.55"><path d="M204.39 349.14C160.85 369.16 116.28 333.06 118.23 279.35" stroke="#00BFC4" stroke-width="1.36"/><path d="M204.39 349.14C162.1 368.58 118.59 331.68 122.47 279.67" stroke="#00BF7D" stroke-width="1.36"/></g><g opacity="0.55"><path d="M60.69 296.77C85.44 340.17 139.08 338.17 160.49 293.04" stroke="#F8766D"/></g><g opacity="0.55"><path d="M195.98 451.13C138.73 408.76 118.6 357.59 128.88 280.56" stroke="#00B0F6" stroke-width="1.36"/><path d="M195.98 451.13C138.73 408.76 117.11 357.37 123.9 279.82" stroke="#00BF7D" stroke-width="1.36"/><path d="M195.98 451.13C138.73 408.76 115.86 357.25 119.72 279.44" stroke="#00BFC4" stroke-width="1.36"/></g><g opacity="0.55"><path d="M125.1 502.37C117.47 424.13 119.57 357.78 132.1 281.21" stroke="#FF62BC"/><path d="M125.1 502.37C117.47 424.13 120.45 357.99 135.03 281.91" stroke="#E76BF3"/><path d="M125.1 502.37C117.47 424.13 127.75 361.12 159.36 292.33" stroke="#F8766D"/><path d="M125.1 502.37C117.47 424.13 124.71 359.5 149.23 286.92" stroke="#A3A500"/><path d="M125.1 502.37C117.47 424.13 126.45 360.37 155.03 289.82" stroke="#9590FF"/><path d="M125.1 502.37C117.47 424.13 121.5 358.29 138.52 282.88" stroke="#D89000"/></g><g opacity="0.55"><path d="M146.11 496.83C123.77 422.47 119.48 357.76 131.79 281.14" stroke="#FF62BC"/><path d="M146.11 496.83C123.77 422.47 120.35 357.97 134.69 281.82" stroke="#E76BF3"/><path d="M146.11 496.83C123.77 422.47 121.4 358.26 138.21 282.79" stroke="#D89000"/><path d="M146.11 496.83C123.77 422.47 126.3 360.29 154.54 289.56" stroke="#9590FF"/></g><g opacity="0.55"><path d="M108.94 502.92C112.62 424.3 119.64 357.8 132.33 281.26" stroke="#FF62BC"/><path d="M108.94 502.92C112.62 424.3 120.52 358.01 135.28 281.97" stroke="#E76BF3"/><path d="M108.94 502.92C112.62 424.3 127.81 361.16 159.57 292.46" stroke="#F8766D"/><path d="M108.94 502.92C112.62 424.3 121.57 358.31 138.75 282.96" stroke="#D89000"/></g><g opacity="0.55"><path d="M19.27 367.39C83 382.97 126.1 356.71 150.42 287.48" stroke="#A3A500"/></g><g opacity="0.55"><path d="M37.13 322.27C74.27 355.19 125.56 334.43 136.12 282.2" stroke="#E76BF3"/><path d="M37.13 322.27C80.76 360.96 134.1 348.16 160.07 292.77" stroke="#F8766D"/></g><g opacity="0.55"><path d="M46.15 470.78C93.78 414.65 123.79 359.1 146.17 285.61" stroke="#39B600"/></g><g opacity="0.55"><path d="M72.56 492.2C101.71 421.08 119.8 357.83 132.86 281.38" stroke="#FF62BC"/><path d="M72.56 492.2C101.71 421.08 120.7 358.06 135.87 282.13" stroke="#E76BF3"/><path d="M72.56 492.2C101.71 421.08 126.6 360.45 155.52 290.09" stroke="#9590FF"/></g><g opacity="0.55"><path d="M52.04 304.24C82.94 347.17 137.41 341.49 160.35 292.95" stroke="#F8766D"/></g><g opacity="0.55"><path d="M18.77 410.91C85.57 396.69 127.87 361.2 159.78 292.6" stroke="#F8766D"/><path d="M18.77 410.91C85.57 396.69 124.07 359.22 147.1 285.99" stroke="#39B600"/></g><g opacity="0.55"><path d="M210.74 379.44C159.65 385.35 121.97 338.96 130.71 280.91" stroke="#FF62BC"/><path d="M210.74 379.44C160.66 385.23 123.65 338.15 133.84 281.61" stroke="#E76BF3"/><path d="M210.74 379.44C155.82 385.79 116.14 342.66 118.7 279.38" stroke="#00BFC4" stroke-width="1.36"/><path d="M210.74 379.44C158.68 385.46 120.41 339.81 127.68 280.36" stroke="#00B0F6" stroke-width="1.36"/><path d="M210.74 379.44C157.13 385.64 118.04 341.29 122.83 279.71" stroke="#00BF7D" stroke-width="1.36"/></g><g opacity="0.55"><path d="M178.5 474.83C133.49 415.87 119.32 357.73 131.25 281.02" stroke="#FF62BC"/><path d="M178.5 474.83C133.49 415.87 120.22 357.93 134.27 281.71" stroke="#E76BF3"/><path d="M178.5 474.83C133.49 415.87 121.26 358.22 137.74 282.65" stroke="#D89000"/></g><g opacity="0.55"><path d="M156.09 492.06C126.77 421.04 119.43 357.75 131.64 281.11" stroke="#FF62BC"/><path d="M156.09 492.06C126.77 421.04 120.3 357.95 134.52 281.78" stroke="#E76BF3"/><path d="M156.09 492.06C126.77 421.04 127.7 361.09 159.21 292.24" stroke="#F8766D"/><path d="M156.09 492.06C126.77 421.04 121.36 358.24 138.05 282.74" stroke="#D89000"/></g><g opacity="0.55"><path d="M189.68 461.28C136.84 411.8 119.25 357.71 131.02 280.98" stroke="#FF62BC"/><path d="M189.68 461.28C136.84 411.8 120.14 357.92 134.01 281.65" stroke="#E76BF3"/><path d="M189.68 461.28C136.84 411.8 121.19 358.19 137.5 282.58" stroke="#D89000"/></g><g opacity="0.55"><path d="M187.7 317.17C160.84 344.01 119.11 320.18 121.93 279.62" stroke="#00BF7D" stroke-width="1.36"/><path d="M187.7 317.17C162.04 342.81 122.45 318.76 126.88 280.23" stroke="#00B0F6" stroke-width="1.36"/><path d="M187.7 317.17C159.83 345.01 116.41 321.52 117.77 279.33" stroke="#00BFC4" stroke-width="1.36"/></g><g opacity="0.55"><path d="M202.26 343.39C161.26 365.37 116.3 331.15 118.14 279.35" stroke="#00BFC4" stroke-width="1.36"/><path d="M202.26 343.39C162.49 364.71 118.69 329.76 122.38 279.66" stroke="#00BF7D" stroke-width="1.36"/><path d="M202.26 343.39C163.89 363.96 121.52 328.35 127.18 280.28" stroke="#00B0F6" stroke-width="1.36"/><path d="M202.26 343.39C166.83 362.38 127.94 325.99 137.19 282.49" stroke="#D89000"/><path d="M202.26 343.39C169.34 361.04 133.79 324.69 145.5 285.33" stroke="#39B600"/></g><g opacity="0.55"><path d="M67.75 489.36C100.26 420.23 119.82 357.84 132.94 281.4" stroke="#FF62BC"/><path d="M67.75 489.36C100.26 420.23 120.73 358.06 135.96 282.15" stroke="#E76BF3"/><path d="M67.75 489.36C100.26 420.23 121.73 358.36 139.3 283.12" stroke="#D89000"/></g><g opacity="0.55"><path d="M42.41 466.26C92.66 413.3 124.79 359.53 149.49 287.05" stroke="#A3A500"/><path d="M42.41 466.26C92.66 413.3 123.82 359.11 146.26 285.64" stroke="#39B600"/></g><g opacity="0.55"><path d="M151.16 494.61C125.29 421.8 119.45 357.76 131.71 281.12" stroke="#FF62BC"/><path d="M151.16 494.61C125.29 421.8 120.32 357.96 134.61 281.8" stroke="#E76BF3"/><path d="M151.16 494.61C125.29 421.8 121.38 358.25 138.13 282.77" stroke="#D89000"/><path d="M151.16 494.61C125.29 421.8 126.23 360.25 154.3 289.43" stroke="#9590FF"/></g><g opacity="0.55"><path d="M17.95 404.73C85.32 394.84 124.1 359.23 147.19 286.03" stroke="#39B600"/></g><g opacity="0.55"><path d="M87.69 498.81C106.25 423.06 119.73 357.82 132.63 281.33" stroke="#FF62BC"/><path d="M87.69 498.81C106.25 423.06 120.63 358.04 135.62 282.06" stroke="#E76BF3"/><path d="M87.69 498.81C106.25 423.06 121.66 358.34 139.07 283.05" stroke="#D89000"/></g><g opacity="0.55"><path d="M206.24 355.02C161.5 372.31 118.5 333.6 122.56 279.68" stroke="#00BF7D" stroke-width="1.36"/><path d="M206.24 355.02C162.93 371.76 121.13 332.19 127.28 280.29" stroke="#00B0F6" stroke-width="1.36"/><path d="M206.24 355.02C173.1 367.83 142.96 327.63 159.14 292.2" stroke="#F8766D"/><path d="M206.24 355.02C160.22 372.81 116.26 334.98 118.32 279.36" stroke="#00BFC4" stroke-width="1.36"/></g><g opacity="0.55"><path d="M74.88 287.77C91.03 330.01 141.6 333.2 160.7 293.18" stroke="#F8766D"/></g><g opacity="0.55"><path d="M23.01 429C86.84 402.12 123.99 359.19 146.85 285.89" stroke="#39B600"/></g><g opacity="0.55"><path d="M77.49 494.73C103.19 421.84 119.78 357.83 132.79 281.36" stroke="#FF62BC"/><path d="M77.49 494.73C103.19 421.84 120.68 358.05 135.79 282.1" stroke="#E76BF3"/><path d="M77.49 494.73C103.19 421.84 121.71 358.35 139.22 283.1" stroke="#D89000"/></g><g opacity="0.55"><path d="M186.17 466.03C135.79 413.23 119.27 357.72 131.1 280.99" stroke="#FF62BC"/><path d="M186.17 466.03C135.79 413.23 120.17 357.92 134.1 281.67" stroke="#E76BF3"/><path d="M186.17 466.03C135.79 413.23 121.21 358.2 137.58 282.61" stroke="#D89000"/></g><g opacity="0.55"><path d="M171.91 300.18C154.01 328.23 116.4 313.84 117.39 279.32" stroke="#00BFC4" stroke-width="1.36"/><path d="M171.91 300.18C154.8 326.99 119.39 312.5 121.58 279.58" stroke="#00BF7D" stroke-width="1.36"/></g><g opacity="0.55"><path d="M106.1 278.51C108.59 312.94 146.71 323.3 161.13 293.45" stroke="#F8766D"/></g><g opacity="0.55"><path d="M24.99 434.82C87.44 403.87 127.85 361.19 159.71 292.55" stroke="#F8766D"/><path d="M24.99 434.82C87.44 403.87 123.97 359.18 146.76 285.85" stroke="#39B600"/></g><g opacity="0.55"><path d="M50.1 475.04C94.97 415.93 123.77 359.09 146.09 285.57" stroke="#39B600"/></g><g opacity="0.55"><path d="M211 398.19C150.93 393.48 116.01 348.41 118.98 279.39" stroke="#00BFC4" stroke-width="1.36"/><path d="M211 398.19C153.8 393.7 119.84 345.52 127.98 280.41" stroke="#00B0F6" stroke-width="1.36"/><path d="M211 398.19C152.24 393.58 117.7 347.03 123.09 279.73" stroke="#00BF7D" stroke-width="1.36"/></g><g opacity="0.55"><path d="M211.22 391.94C155.56 391.17 120.03 343.62 127.88 280.39" stroke="#00B0F6" stroke-width="1.36"/><path d="M211.22 391.94C153.99 391.15 117.81 345.12 123.01 279.72" stroke="#00BF7D" stroke-width="1.36"/><path d="M211.22 391.94C152.68 391.13 116.06 346.49 118.88 279.39" stroke="#00BFC4" stroke-width="1.36"/></g><g opacity="0.55"><path d="M18.3 373.54C84.32 385.29 125.44 358.45 150.29 287.41" stroke="#A3A500"/></g><g opacity="0.55"><path d="M84.97 283.34C95.97 323.7 143.29 329.89 160.84 293.27" stroke="#F8766D"/><path d="M84.97 283.34C94.92 319.88 138.51 322.81 151.08 287.79" stroke="#A3A500"/></g><g opacity="0.55"><path d="M35.61 456.56C90.62 410.39 123.87 359.13 146.43 285.71" stroke="#39B600"/></g><g opacity="0.55"><path d="M211.13 385.68C154.31 388.56 116.1 344.57 118.79 279.38" stroke="#00BFC4" stroke-width="1.36"/><path d="M211.13 385.68C157.19 388.42 120.22 341.71 127.78 280.37" stroke="#00B0F6" stroke-width="1.36"/><path d="M211.13 385.68C155.63 388.5 117.93 343.21 122.92 279.71" stroke="#00BF7D" stroke-width="1.36"/></g><g opacity="0.55"><path d="M191.11 322.02C160.62 349.21 116.41 323.44 117.86 279.34" stroke="#00BFC4" stroke-width="1.36"/><path d="M191.11 322.02C161.67 348.27 119.03 322.1 122.02 279.62" stroke="#00BF7D" stroke-width="1.36"/><path d="M191.11 322.02C167.67 342.92 135.78 317.34 145.24 285.23" stroke="#39B600"/></g><g opacity="0.55"><path d="M56.27 300.36C84.07 343.66 138.24 339.83 160.42 293" stroke="#F8766D"/></g></g><path d="M114.71 277.54A97.52 113.06 0 0 1 165.15 294.2" fill="none" stroke="#E6C495" stroke-width="4" stroke-linecap="round"/><circle cx="172.79" cy="298.8" r="1.6" fill="#fb0011"/><circle cx="177.1" cy="302.72" r="1.6" fill="#ff0000"/><circle cx="181.22" cy="306.91" r="1.6" fill="#e70061"/><circle cx="185.13" cy="311.36" r="1.6" fill="#be00a5"/><circle cx="188.82" cy="316.05" r="1.6" fill="#c80098"/><circle cx="192.28" cy="320.98" r="1.6" fill="#7e00df"/><circle cx="195.5" cy="326.12" r="1.6" fill="#7400e6"/><circle cx="198.46" cy="331.46" r="1.6" fill="#8300dc"/><circle cx="201.17" cy="336.98" r="1.6" fill="#8600d9"/><circle cx="203.6" cy="342.67" r="1.6" fill="#8500da"/><circle cx="205.76" cy="348.51" r="1.6" fill="#7b00e1"/><circle cx="207.64" cy="354.47" r="1.6" fill="#8e00d3"/><circle cx="209.23" cy="360.55" r="1.6" fill="#8c00d5"/><circle cx="210.52" cy="366.73" r="1.6" fill="#0000ff"/><circle cx="211.52" cy="372.97" r="1.6" fill="#0000ff"/><circle cx="212.21" cy="379.27" r="1.6" fill="#0000ff"/><circle cx="212.61" cy="385.61" r="1.6" fill="#0000ff"/><circle cx="212.69" cy="391.96" r="1.6" fill="#0000ff"/><circle cx="212.48" cy="398.3" r="1.6" fill="#2c00f7"/><circle cx="211.95" cy="404.63" r="1.6" fill="#0000ff"/><circle cx="211.13" cy="410.91" r="1.6" fill="#0000ff"/><circle cx="210.01" cy="417.12" r="1.6" fill="#0000ff"/><circle cx="208.59" cy="423.26" r="1.6" fill="#0000ff"/><circle cx="206.87" cy="429.29" r="1.6" fill="#0000ff"/><circle cx="204.88" cy="435.21" r="1.6" fill="#2c00f7"/><circle cx="202.6" cy="440.98" r="1.6" fill="#0000ff"/><circle cx="200.04" cy="446.6" r="1.6" fill="#0000ff"/><circle cx="197.23" cy="452.05" r="1.6" fill="#2c00f7"/><circle cx="194.15" cy="457.3" r="1.6" fill="#ff0002"/><circle cx="190.83" cy="462.35" r="1.6" fill="#ca0095"/><circle cx="187.27" cy="467.18" r="1.6" fill="#6d00eb"/><circle cx="183.48" cy="471.77" r="1.6" fill="#7600e5"/><circle cx="179.48" cy="476.12" r="1.6" fill="#8200dc"/><circle cx="175.28" cy="480.19" r="1.6" fill="#0000ff"/><circle cx="170.89" cy="483.99" r="1.6" fill="#0000ff"/><circle cx="166.32" cy="487.5" r="1.6" fill="#0000ff"/><circle cx="161.6" cy="490.71" r="1.6" fill="#0000ff"/><circle cx="156.72" cy="493.61" r="1.6" fill="#0000ff"/><circle cx="151.72" cy="496.19" r="1.6" fill="#2c00f7"/><circle cx="146.6" cy="498.45" r="1.6" fill="#0000ff"/><circle cx="141.37" cy="500.37" r="1.6" fill="#0000ff"/><circle cx="136.07" cy="501.95" r="1.6" fill="#0000ff"/><circle cx="130.7" cy="503.19" r="1.6" fill="#0000ff"/><circle cx="125.27" cy="504.08" r="1.6" fill="#0000ff"/><circle cx="119.81" cy="504.61" r="1.6" fill="#0000ff"/><circle cx="114.34" cy="504.8" r="1.6" fill="#0000ff"/><circle cx="108.86" cy="504.63" r="1.6" fill="#0000ff"/><circle cx="103.4" cy="504.11" r="1.6" fill="#0000ff"/><circle cx="97.97" cy="503.24" r="1.6" fill="#0000ff"/><circle cx="92.6" cy="502.02" r="1.6" fill="#0000ff"/><circle cx="87.29" cy="500.45" r="1.6" fill="#0000ff"/><circle cx="82.06" cy="498.55" r="1.6" fill="#2c00f7"/><circle cx="76.93" cy="496.31" r="1.6" fill="#0000ff"/><circle cx="71.92" cy="493.75" r="1.6" fill="#9b00c9"/><circle cx="67.04" cy="490.86" r="1.6" fill="#8e00d3"/><circle cx="62.31" cy="487.67" r="1.6" fill="#ff0000"/><circle cx="57.73" cy="484.17" r="1.6" fill="#fd0008"/><circle cx="53.33" cy="480.39" r="1.6" fill="#0000ff"/><circle cx="49.12" cy="476.32" r="1.6" fill="#0000ff"/><circle cx="45.11" cy="472" r="1.6" fill="#0000ff"/><circle cx="41.31" cy="467.42" r="1.6" fill="#0000ff"/><circle cx="37.74" cy="462.6" r="1.6" fill="#0000ff"/><circle cx="34.41" cy="457.56" r="1.6" fill="#0000ff"/><circle cx="31.32" cy="452.31" r="1.6" fill="#0000ff"/><circle cx="28.49" cy="446.88" r="1.6" fill="#0000ff"/><circle cx="25.92" cy="441.26" r="1.6" fill="#0000ff"/><circle cx="23.63" cy="435.5" r="1.6" fill="#0000ff"/><circle cx="21.62" cy="429.59" r="1.6" fill="#0000ff"/><circle cx="19.89" cy="423.56" r="1.6" fill="#2c00f7"/><circle cx="18.46" cy="417.43" r="1.6" fill="#0000ff"/><circle cx="17.32" cy="411.22" r="1.6" fill="#0000ff"/><circle cx="16.48" cy="404.94" r="1.6" fill="#0000ff"/><circle cx="15.94" cy="398.62" r="1.6" fill="#0000ff"/><circle cx="15.71" cy="392.27" r="1.6" fill="#7b00e2"/><circle cx="15.78" cy="385.92" r="1.6" fill="#7c00e1"/><circle cx="16.16" cy="379.59" r="1.6" fill="#fd0009"/><circle cx="16.84" cy="373.28" r="1.6" fill="#0000ff"/><circle cx="17.82" cy="367.03" r="1.6" fill="#0000ff"/><circle cx="19.1" cy="360.86" r="1.6" fill="#0000ff"/><circle cx="20.67" cy="354.77" r="1.6" fill="#0000ff"/><circle cx="22.54" cy="348.8" r="1.6" fill="#2c00f7"/><circle cx="24.68" cy="342.96" r="1.6" fill="#0000ff"/><circle cx="27.1" cy="337.26" r="1.6" fill="#0000ff"/><circle cx="29.8" cy="331.73" r="1.6" fill="#6e00eb"/><circle cx="32.75" cy="326.38" r="1.6" fill="#8700d8"/><circle cx="35.96" cy="321.23" r="1.6" fill="#8400db"/><circle cx="39.4" cy="316.29" r="1.6" fill="#8200dc"/><circle cx="43.08" cy="311.59" r="1.6" fill="#6b00ec"/><circle cx="46.98" cy="307.12" r="1.6" fill="#7100e9"/><circle cx="51.09" cy="302.92" r="1.6" fill="#0000ff"/><circle cx="55.39" cy="298.99" r="1.6" fill="#0000ff"/><circle cx="59.88" cy="295.34" r="1.6" fill="#0000ff"/><circle cx="64.53" cy="291.98" r="1.6" fill="#0000ff"/><circle cx="69.33" cy="288.94" r="1.6" fill="#0000ff"/><circle cx="74.28" cy="286.2" r="1.6" fill="#0000ff"/><circle cx="79.35" cy="283.79" r="1.6" fill="#0000ff"/><circle cx="84.52" cy="281.71" r="1.6" fill="#0000ff"/><circle cx="89.79" cy="279.96" r="1.6" fill="#0000ff"/><circle cx="95.13" cy="278.56" r="1.6" fill="#0000ff"/><circle cx="100.54" cy="277.5" r="1.6" fill="#0000ff"/><circle cx="105.98" cy="276.8" r="1.6" fill="#0000ff"/><circle cx="111.45" cy="276.44" r="1.6" fill="#0000ff"/><g font-size="2.9" fill="#333" stroke="#333" stroke-width="0.18"><text transform="matrix(0.873 0 0 1 171.33 302.89)" text-anchor="end">COL17</text><text transform="matrix(0.873 0 0 1 178.67 302.32)" text-anchor="start">ITG13</text><text transform="matrix(0.873 0 0 1 179.54 310.8)" text-anchor="end">FGF20</text><text transform="matrix(0.873 0 0 1 186.9 311.18)" text-anchor="start">SRC</text><text transform="matrix(0.873 0 0 1 186.95 319.72)" text-anchor="end">CAV</text><text transform="matrix(0.873 0 0 1 194.23 321.04)" text-anchor="start">SOX</text><text transform="matrix(0.873 0 0 1 193.46 329.53)" text-anchor="end">JAK15</text><text transform="matrix(0.873 0 0 1 200.57 331.78)" text-anchor="start">EPH13</text><text transform="matrix(0.873 0 0 1 198.99 340.12)" text-anchor="end">SERPIN2</text><text transform="matrix(0.873 0 0 1 205.84 343.27)" text-anchor="start">SRC19A</text><text transform="matrix(0.873 0 0 1 203.48 351.36)" text-anchor="end">TP15</text><text transform="matrix(0.873 0 0 1 209.98 355.37)" text-anchor="start">NOTCH11R</text><text transform="matrix(0.873 0 0 1 206.85 363.1)" text-anchor="end">S100A5</text><text transform="matrix(0.873 0 0 1 212.93 367.93)" text-anchor="start">PTPN6</text><text transform="matrix(0.873 0 0 1 209.09 375.21)" text-anchor="end">MUC5</text><text transform="matrix(0.873 0 0 1 214.66 380.79)" text-anchor="start">WNT9A</text><text transform="matrix(0.873 0 0 1 210.15 387.53)" text-anchor="end">SHH12</text><text transform="matrix(0.873 0 0 1 215.16 393.79)" text-anchor="start">ANXA14C</text><text transform="matrix(0.873 0 0 1 210.02 399.91)" text-anchor="end">MUC4</text><text transform="matrix(0.873 0 0 1 214.4 406.78)" text-anchor="start">PTPNR</text><text transform="matrix(0.873 0 0 1 208.71 412.2)" text-anchor="end">FGF18</text><text transform="matrix(0.873 0 0 1 212.4 419.59)" text-anchor="start">EGF5</text><text transform="matrix(0.873 0 0 1 206.23 424.24)" text-anchor="end">COL2</text><text transform="matrix(0.873 0 0 1 209.19 432.06)" text-anchor="start">CCLB</text><text transform="matrix(0.873 0 0 1 202.61 435.89)" text-anchor="end">TF20</text><text transform="matrix(0.873 0 0 1 204.81 444.04)" text-anchor="start">PTPN7</text><text transform="matrix(0.873 0 0 1 197.9 447)" text-anchor="end">TP</text><text transform="matrix(0.873 0 0 1 199.3 455.38)" text-anchor="start">MMP14</text><text transform="matrix(0.873 0 0 1 192.15 457.44)" text-anchor="end">SHH9</text><text transform="matrix(0.873 0 0 1 192.74 465.95)" text-anchor="start">CXCL6</text><text transform="matrix(0.873 0 0 1 185.44 467.07)" text-anchor="end">LAMA15C</text><text transform="matrix(0.873 0 0 1 185.22 475.6)" text-anchor="start">SOX12</text><text transform="matrix(0.873 0 0 1 177.85 475.78)" text-anchor="end">PDGF1</text><text transform="matrix(0.873 0 0 1 176.81 484.23)" text-anchor="start">TFF12</text><text transform="matrix(0.873 0 0 1 169.47 483.45)" text-anchor="end">KIT3</text><text transform="matrix(0.873 0 0 1 167.63 491.72)" text-anchor="start">LYN20</text><text transform="matrix(0.873 0 0 1 160.41 490.01)" text-anchor="end">JAK4</text><text transform="matrix(0.873 0 0 1 157.79 497.98)" text-anchor="start">PDGF14</text><text transform="matrix(0.873 0 0 1 150.78 495.35)" text-anchor="end">APO4</text><text transform="matrix(0.873 0 0 1 147.41 502.94)" text-anchor="start">GATAR</text><text transform="matrix(0.873 0 0 1 140.7 499.42)" text-anchor="end">CCL</text><text transform="matrix(0.873 0 0 1 136.62 508.73)" text-anchor="middle">KIT15</text><text transform="matrix(0.873 0 0 1 130.28 501.37)" text-anchor="middle">VEGF10</text><text transform="matrix(0.873 0 0 1 125.55 510.91)" text-anchor="middle">AGR</text><text transform="matrix(0.873 0 0 1 119.67 502.76)" text-anchor="middle">TFF20</text><text transform="matrix(0.873 0 0 1 114.34 511.65)" text-anchor="middle">KIT19</text><text transform="matrix(0.873 0 0 1 108.99 502.78)" text-anchor="middle">NOTCH9</text><text transform="matrix(0.873 0 0 1 103.13 510.95)" text-anchor="middle">APO4</text><text transform="matrix(0.873 0 0 1 98.38 501.42)" text-anchor="middle">CXCL12A</text><text transform="matrix(0.873 0 0 1 92.06 508.8)" text-anchor="middle">APO12</text><text transform="matrix(0.873 0 0 1 87.96 499.51)" text-anchor="start">IL5</text><text transform="matrix(0.873 0 0 1 81.26 503.05)" text-anchor="end">VEGF17</text><text transform="matrix(0.873 0 0 1 77.87 495.47)" text-anchor="start">AGR2</text><text transform="matrix(0.873 0 0 1 70.87 498.12)" text-anchor="end">IL</text><text transform="matrix(0.873 0 0 1 68.22 490.15)" text-anchor="start">CCL4</text><text transform="matrix(0.873 0 0 1 61.01 491.89)" text-anchor="end">EGF</text><text transform="matrix(0.873 0 0 1 59.14 483.63)" text-anchor="start">MUC</text><text transform="matrix(0.873 0 0 1 51.81 484.43)" text-anchor="end">APO12</text><text transform="matrix(0.873 0 0 1 50.75 475.98)" text-anchor="start">CAV3C</text><text transform="matrix(0.873 0 0 1 43.38 475.83)" text-anchor="end">AGR</text><text transform="matrix(0.873 0 0 1 43.14 467.3)" text-anchor="start">SOX5C</text><text transform="matrix(0.873 0 0 1 35.83 466.2)" text-anchor="end">IL14</text><text transform="matrix(0.873 0 0 1 36.4 457.69)" text-anchor="start">ANXA</text><text transform="matrix(0.873 0 0 1 29.25 455.66)" text-anchor="end">WNT17</text><text transform="matrix(0.873 0 0 1 30.63 447.27)" text-anchor="start">EGF5</text><text transform="matrix(0.873 0 0 1 23.72 444.33)" text-anchor="end">CAV10</text><text transform="matrix(0.873 0 0 1 25.9 436.17)" text-anchor="start">BMP14</text><text transform="matrix(0.873 0 0 1 19.3 432.36)" text-anchor="end">CXCL6</text><text transform="matrix(0.873 0 0 1 22.25 424.54)" text-anchor="start">JAK4</text><text transform="matrix(0.873 0 0 1 16.06 419.9)" text-anchor="end">CAV19</text><text transform="matrix(0.873 0 0 1 19.74 412.5)" text-anchor="start">KIT4</text><text transform="matrix(0.873 0 0 1 14.04 407.1)" text-anchor="end">CD4</text><text transform="matrix(0.873 0 0 1 18.4 400.22)" text-anchor="start">EPH17</text><text transform="matrix(0.873 0 0 1 13.25 394.12)" text-anchor="end">ERBB10</text><text transform="matrix(0.873 0 0 1 18.24 387.84)" text-anchor="start">ANXA2</text><text transform="matrix(0.873 0 0 1 13.71 381.11)" text-anchor="end">FOXA9</text><text transform="matrix(0.873 0 0 1 19.27 375.52)" text-anchor="start">AGR</text><text transform="matrix(0.873 0 0 1 15.41 368.24)" text-anchor="end">PTPN18</text><text transform="matrix(0.873 0 0 1 21.48 363.4)" text-anchor="start">SERPIN</text><text transform="matrix(0.873 0 0 1 18.33 355.68)" text-anchor="end">WNT10</text><text transform="matrix(0.873 0 0 1 24.83 351.65)" text-anchor="start">ALB12R</text><text transform="matrix(0.873 0 0 1 22.44 343.57)" text-anchor="end">EPH14</text><text transform="matrix(0.873 0 0 1 29.28 340.39)" text-anchor="start">SOX17R</text><text transform="matrix(0.873 0 0 1 27.69 332.06)" text-anchor="end">S100A8</text><text transform="matrix(0.873 0 0 1 34.79 329.78)" text-anchor="start">VEGF12</text><text transform="matrix(0.873 0 0 1 34 321.29)" text-anchor="end">CCL17</text><text transform="matrix(0.873 0 0 1 41.27 319.95)" text-anchor="start">CD19</text><text transform="matrix(0.873 0 0 1 41.31 311.41)" text-anchor="end">CD12</text><text transform="matrix(0.873 0 0 1 48.66 311.01)" text-anchor="start">VEGF</text><text transform="matrix(0.873 0 0 1 49.51 302.53)" text-anchor="end">FOXA19B</text><text transform="matrix(0.873 0 0 1 56.86 303.08)" text-anchor="start">PTPN12A</text><text transform="matrix(0.873 0 0 1 58.52 294.76)" text-anchor="end">CXCL9</text><text transform="matrix(0.873 0 0 1 65.77 296.25)" text-anchor="start">LYN12</text><text transform="matrix(0.873 0 0 1 68.21 288.19)" text-anchor="end">GATA4B</text><text transform="matrix(0.873 0 0 1 75.28 290.61)" text-anchor="start">NOTCH11B</text><text transform="matrix(0.873 0 0 1 78.47 282.92)" text-anchor="end">GATA2</text><text transform="matrix(0.873 0 0 1 85.26 286.23)" text-anchor="start">PTPN20B</text><text transform="matrix(0.873 0 0 1 89.18 278.2)" text-anchor="middle">SHH1</text><text transform="matrix(0.873 0 0 1 95.61 285.36)" text-anchor="middle">CLDN19</text><text transform="matrix(0.873 0 0 1 100.19 275.68)" text-anchor="middle">STAT3A</text><text transform="matrix(0.873 0 0 1 106.19 283.64)" text-anchor="middle">SRC5</text><text transform="matrix(0.873 0 0 1 111.38 274.59)" text-anchor="middle">SRC4</text></g><g font-size="2.7" fill="#333" stroke="#333" stroke-width="0.12"><text transform="matrix(0.873 0 0 1 95 274.4)">membrane microdomain</text><text transform="matrix(0.873 0 0 1 124 275.6)">membrane region</text><text transform="matrix(0.873 0 0 1 140 280.2)">secretory granule lumen</text><text transform="matrix(0.873 0 0 1 149 284.3)">external side of plasma membrane</text><text transform="matrix(0.873 0 0 1 160 288.6)">endoplasmic reticulum lumen</text><text transform="matrix(0.873 0 0 1 159 296.2)">apical plasma membrane</text><text transform="matrix(0.873 0 0 1 102 280)">membrane raft</text><text transform="matrix(0.873 0 0 1 127 282.6)">vesicle lumen</text><text transform="matrix(0.873 0 0 1 124 286.6)">cytoplasmic vesicle lumen</text><text transform="matrix(0.873 0 0 1 132 292.2)">platelet alpha granule lumen</text></g><text transform="matrix(0.873 0 0 1 224.3 324.7)" font-size="3.6" fill="#222" stroke="#222" stroke-width="0.14">size</text><ellipse cx="227.4" cy="329.9" rx="1.8" ry="2" fill="#000"/><text transform="matrix(0.873 0 0 1 232 330.9)" font-size="2.8" fill="#444" stroke="#444" stroke-width="0.14">15</text><ellipse cx="227.4" cy="336.5" rx="2.16" ry="2.4" fill="#000"/><text transform="matrix(0.873 0 0 1 232 337.5)" font-size="2.8" fill="#444" stroke="#444" stroke-width="0.14">20</text><ellipse cx="227.4" cy="344.1" rx="2.52" ry="2.8" fill="#000"/><text transform="matrix(0.873 0 0 1 232 345.1)" font-size="2.8" fill="#444" stroke="#444" stroke-width="0.14">25</text><text transform="matrix(0.873 0 0 1 224.3 354.3)" font-size="3.85" fill="#222" stroke="#222" stroke-width="0.14">category</text><line x1="224" y1="359.7" x2="229" y2="359.7" stroke="#F8766D" stroke-opacity="0.55" stroke-width="0.9"/><text transform="matrix(0.873 0 0 1 231.3 360.8)" font-size="3.17" fill="#333" stroke="#333" stroke-width="0.14">apical plasma membrane</text><line x1="224" y1="366.04" x2="229" y2="366.04" stroke="#D89000" stroke-opacity="0.55" stroke-width="0.9"/><text transform="matrix(0.873 0 0 1 231.3 367.14)" font-size="3.17" fill="#333" stroke="#333" stroke-width="0.14">cytoplasmic vesicle lumen</text><line x1="224" y1="372.38" x2="229" y2="372.38" stroke="#A3A500" stroke-opacity="0.55" stroke-width="0.9"/><text transform="matrix(0.873 0 0 1 231.3 373.48)" font-size="3.17" fill="#333" stroke="#333" stroke-width="0.14">endoplasmic reticulum lumen</text><line x1="224" y1="378.72" x2="229" y2="378.72" stroke="#39B600" stroke-opacity="0.55" stroke-width="0.9"/><text transform="matrix(0.873 0 0 1 231.3 379.82)" font-size="3.17" fill="#333" stroke="#333" stroke-width="0.14">external side of plasma membrane</text><line x1="224" y1="385.06" x2="229" y2="385.06" stroke="#00BF7D" stroke-opacity="0.55" stroke-width="0.9"/><text transform="matrix(0.873 0 0 1 231.3 386.16)" font-size="3.17" fill="#333" stroke="#333" stroke-width="0.14">membrane microdomain</text><line x1="224" y1="391.4" x2="229" y2="391.4" stroke="#00BFC4" stroke-opacity="0.55" stroke-width="0.9"/><text transform="matrix(0.873 0 0 1 231.3 392.5)" font-size="3.17" fill="#333" stroke="#333" stroke-width="0.14">membrane raft</text><line x1="224" y1="397.74" x2="229" y2="397.74" stroke="#00B0F6" stroke-opacity="0.55" stroke-width="0.9"/><text transform="matrix(0.873 0 0 1 231.3 398.84)" font-size="3.17" fill="#333" stroke="#333" stroke-width="0.14">membrane region</text><line x1="224" y1="404.08" x2="229" y2="404.08" stroke="#9590FF" stroke-opacity="0.55" stroke-width="0.9"/><text transform="matrix(0.873 0 0 1 231.3 405.18)" font-size="3.17" fill="#333" stroke="#333" stroke-width="0.14">platelet alpha granule lumen</text><line x1="224" y1="410.42" x2="229" y2="410.42" stroke="#E76BF3" stroke-opacity="0.55" stroke-width="0.9"/><text transform="matrix(0.873 0 0 1 231.3 411.52)" font-size="3.17" fill="#333" stroke="#333" stroke-width="0.14">secretory granule lumen</text><line x1="224" y1="416.76" x2="229" y2="416.76" stroke="#FF62BC" stroke-opacity="0.55" stroke-width="0.9"/><text transform="matrix(0.873 0 0 1 231.3 417.86)" font-size="3.17" fill="#333" stroke="#333" stroke-width="0.14">vesicle lumen</text><text transform="matrix(0.873 0 0 1 224 425.6)" font-size="3.87" fill="#222" stroke="#222" stroke-width="0.14">logFC</text><rect x="224" y="428.2" width="5.8" height="31.6" fill="url(#gfc)"/><text transform="matrix(0.873 0 0 1 232 433.8)" font-size="2.6" fill="#444" stroke="#444" stroke-width="0.14">5</text><text transform="matrix(0.873 0 0 1 232 439.5)" font-size="2.6" fill="#444" stroke="#444" stroke-width="0.14">4</text><text transform="matrix(0.873 0 0 1 232 445.2)" font-size="2.6" fill="#444" stroke="#444" stroke-width="0.14">3</text><text transform="matrix(0.873 0 0 1 232 450.6)" font-size="2.6" fill="#444" stroke="#444" stroke-width="0.14">2</text><text transform="matrix(0.873 0 0 1 232 456.3)" font-size="2.6" fill="#444" stroke="#444" stroke-width="0.14">1</text></g><g stroke="#e3e3e3" stroke-width="1.0"><line x1="389" y1="16.9" x2="389" y2="206.5"/><line x1="409.05" y1="16.9" x2="409.05" y2="206.5"/><line x1="429.1" y1="16.9" x2="429.1" y2="206.5"/><line x1="449.15" y1="16.9" x2="449.15" y2="206.5"/><line x1="469.2" y1="16.9" x2="469.2" y2="206.5"/><line x1="383.6" y1="28.5" x2="476.4" y2="28.5"/><line x1="383.6" y1="47.13" x2="476.4" y2="47.13"/><line x1="383.6" y1="65.76" x2="476.4" y2="65.76"/><line x1="383.6" y1="84.39" x2="476.4" y2="84.39"/><line x1="383.6" y1="103.02" x2="476.4" y2="103.02"/><line x1="383.6" y1="121.65" x2="476.4" y2="121.65"/><line x1="383.6" y1="140.28" x2="476.4" y2="140.28"/><line x1="383.6" y1="158.91" x2="476.4" y2="158.91"/><line x1="383.6" y1="177.54" x2="476.4" y2="177.54"/><line x1="383.6" y1="196.17" x2="476.4" y2="196.17"/></g><ellipse cx="470.48" cy="28.5" rx="4.05" ry="4.5" fill="#ff0000"/><ellipse cx="447.55" cy="47.13" rx="3.78" ry="4.2" fill="#ff0000"/><ellipse cx="409.37" cy="65.76" rx="3.74" ry="4.15" fill="#ff0000"/><ellipse cx="408.97" cy="84.39" rx="3.33" ry="3.7" fill="#ff0000"/><ellipse cx="394.05" cy="103.02" rx="1.62" ry="1.8" fill="#ea0d4a"/><ellipse cx="393.81" cy="121.65" rx="3.15" ry="3.5" fill="#f0084a"/><ellipse cx="392.61" cy="140.28" rx="1.17" ry="1.3" fill="#e40e52"/><ellipse cx="389.96" cy="158.91" rx="2.97" ry="3.3" fill="#8a06e0"/><ellipse cx="389.56" cy="177.54" rx="2.88" ry="3.2" fill="#8e08dc"/><ellipse cx="389" cy="196.17" rx="3.42" ry="3.8" fill="#1010f4"/><rect x="383.6" y="16.9" width="92.8" height="189.6" fill="none" stroke="#333" stroke-width="1.0"/><g stroke="#333" stroke-width="0.7"><line x1="380.7" y1="28.5" x2="383.6" y2="28.5"/><line x1="380.7" y1="47.13" x2="383.6" y2="47.13"/><line x1="380.7" y1="65.76" x2="383.6" y2="65.76"/><line x1="380.7" y1="84.39" x2="383.6" y2="84.39"/><line x1="380.7" y1="103.02" x2="383.6" y2="103.02"/><line x1="380.7" y1="121.65" x2="383.6" y2="121.65"/><line x1="380.7" y1="140.28" x2="383.6" y2="140.28"/><line x1="380.7" y1="158.91" x2="383.6" y2="158.91"/><line x1="380.7" y1="177.54" x2="383.6" y2="177.54"/><line x1="380.7" y1="196.17" x2="383.6" y2="196.17"/><line x1="389" y1="206.5" x2="389" y2="209.4"/><line x1="409.05" y1="206.5" x2="409.05" y2="209.4"/><line x1="429.1" y1="206.5" x2="429.1" y2="209.4"/><line x1="449.15" y1="206.5" x2="449.15" y2="209.4"/><line x1="469.2" y1="206.5" x2="469.2" y2="209.4"/></g><text transform="matrix(0.8394 0 0 1 380.1 30.57)" font-size="5.99" text-anchor="end" fill="#1e1e1e" stroke="#1e1e1e" stroke-width="0.16">epithelial cell proliferation</text><text transform="matrix(0.8394 0 0 1 380.1 49.2)" font-size="5.99" text-anchor="end" fill="#1e1e1e" stroke="#1e1e1e" stroke-width="0.16">regulation of epithelial cell proliferation</text><text transform="matrix(0.8394 0 0 1 380.1 67.83)" font-size="5.99" text-anchor="end" fill="#1e1e1e" stroke="#1e1e1e" stroke-width="0.16">gland development</text><text transform="matrix(0.8394 0 0 1 380.1 86.46)" font-size="5.99" text-anchor="end" fill="#1e1e1e" stroke="#1e1e1e" stroke-width="0.16">positive regulation of secretion</text><text transform="matrix(0.8394 0 0 1 380.1 105.09)" font-size="5.99" text-anchor="end" fill="#1e1e1e" stroke="#1e1e1e" stroke-width="0.16">digestive system development</text><text transform="matrix(0.8394 0 0 1 380.1 123.72)" font-size="5.99" text-anchor="end" fill="#1e1e1e" stroke="#1e1e1e" stroke-width="0.16">positive regulation of cell adhesion</text><text transform="matrix(0.8394 0 0 1 380.1 142.35)" font-size="5.99" text-anchor="end" fill="#1e1e1e" stroke="#1e1e1e" stroke-width="0.16">digestive tract development</text><text transform="matrix(0.8394 0 0 1 380.1 160.98)" font-size="5.99" text-anchor="end" fill="#1e1e1e" stroke="#1e1e1e" stroke-width="0.16">peptidyl-tyrosine phosphorylation</text><text transform="matrix(0.8394 0 0 1 380.1 179.61)" font-size="5.99" text-anchor="end" fill="#1e1e1e" stroke="#1e1e1e" stroke-width="0.16">leukocyte proliferation</text><text transform="matrix(0.8394 0 0 1 380.1 198.24)" font-size="5.99" text-anchor="end" fill="#1e1e1e" stroke="#1e1e1e" stroke-width="0.16">peptidyl-tyrosine modification</text><text transform="matrix(0.8394 0 0 1 389 214.8)" font-size="5.99" text-anchor="middle" fill="#1e1e1e" stroke="#1e1e1e" stroke-width="0.16">17.5</text><text transform="matrix(0.8394 0 0 1 409.05 214.8)" font-size="5.99" text-anchor="middle" fill="#1e1e1e" stroke="#1e1e1e" stroke-width="0.16">20.0</text><text transform="matrix(0.8394 0 0 1 429.1 214.8)" font-size="5.99" text-anchor="middle" fill="#1e1e1e" stroke="#1e1e1e" stroke-width="0.16">22.5</text><text transform="matrix(0.8394 0 0 1 449.15 214.8)" font-size="5.99" text-anchor="middle" fill="#1e1e1e" stroke="#1e1e1e" stroke-width="0.16">25.0</text><text transform="matrix(0.8394 0 0 1 469.2 214.8)" font-size="5.99" text-anchor="middle" fill="#1e1e1e" stroke="#1e1e1e" stroke-width="0.16">27.5</text><text transform="matrix(0.8394 0 0 1 430.2 223.3)" font-size="7.426" text-anchor="middle" fill="#000" stroke="#000" stroke-width="0.16">EnrichmentScore (−log10(pvalue))</text><text transform="matrix(0.8394 0 0 1 430.3 12.7)" font-size="8.632" text-anchor="middle" fill="#000" stroke="#000" stroke-width="0.16">Biological Process</text><text transform="matrix(0.8394 0 0 1 486.2 40.1)" font-size="7.176" text-anchor="start" fill="#000" stroke="#000" stroke-width="0.16">Count</text><rect x="486" y="44.65" width="10" height="65.9" fill="#f3f3f3"/><ellipse cx="491" cy="49.9" rx="0.65" ry="0.75" fill="#000"/><text transform="matrix(0.8394 0 0 1 498.6 52.02)" font-size="6.136" text-anchor="start" fill="#333" stroke="#333" stroke-width="0.16">25</text><ellipse cx="491" cy="61.1" rx="2.1" ry="2.4" fill="#000"/><text transform="matrix(0.8394 0 0 1 498.6 63.22)" font-size="6.136" text-anchor="start" fill="#333" stroke="#333" stroke-width="0.16">30</text><ellipse cx="491" cy="72.1" rx="2.62" ry="3" fill="#000"/><text transform="matrix(0.8394 0 0 1 498.6 74.22)" font-size="6.136" text-anchor="start" fill="#333" stroke="#333" stroke-width="0.16">35</text><ellipse cx="491" cy="83.1" rx="3.06" ry="3.5" fill="#000"/><text transform="matrix(0.8394 0 0 1 498.6 85.22)" font-size="6.136" text-anchor="start" fill="#333" stroke="#333" stroke-width="0.16">40</text><ellipse cx="491" cy="94.3" rx="3.4" ry="3.9" fill="#000"/><text transform="matrix(0.8394 0 0 1 498.6 96.42)" font-size="6.136" text-anchor="start" fill="#333" stroke="#333" stroke-width="0.16">45</text><ellipse cx="491" cy="105.3" rx="3.75" ry="4.3" fill="#000"/><text transform="matrix(0.8394 0 0 1 498.6 107.42)" font-size="6.136" text-anchor="start" fill="#333" stroke="#333" stroke-width="0.16">50</text><text transform="matrix(0.8394 0 0 1 486.2 130.6)" font-size="7.176" text-anchor="start" fill="#000" stroke="#000" stroke-width="0.16">pvalue</text><rect x="486.1" y="135.2" width="9.8" height="54.8" fill="url(#gb)"/><line x1="486.1" y1="135.4" x2="487.9" y2="135.4" stroke="#fff" stroke-width="0.5" stroke-opacity="0.8"/><line x1="494.1" y1="135.4" x2="495.9" y2="135.4" stroke="#fff" stroke-width="0.5" stroke-opacity="0.8"/><text transform="matrix(0.8394 0 0 1 498.8 137.52)" font-size="6.136" text-anchor="start" fill="#333" stroke="#333" stroke-width="0.16">2.875391e−18</text><line x1="486.1" y1="149.1" x2="487.9" y2="149.1" stroke="#fff" stroke-width="0.5" stroke-opacity="0.8"/><line x1="494.1" y1="149.1" x2="495.9" y2="149.1" stroke="#fff" stroke-width="0.5" stroke-opacity="0.8"/><text transform="matrix(0.8394 0 0 1 498.8 151.22)" font-size="6.136" text-anchor="start" fill="#333" stroke="#333" stroke-width="0.16">2.156543e−18</text><line x1="486.1" y1="162.8" x2="487.9" y2="162.8" stroke="#fff" stroke-width="0.5" stroke-opacity="0.8"/><line x1="494.1" y1="162.8" x2="495.9" y2="162.8" stroke="#fff" stroke-width="0.5" stroke-opacity="0.8"/><text transform="matrix(0.8394 0 0 1 498.8 164.92)" font-size="6.136" text-anchor="start" fill="#333" stroke="#333" stroke-width="0.16">1.437695e−18</text><line x1="486.1" y1="176.5" x2="487.9" y2="176.5" stroke="#fff" stroke-width="0.5" stroke-opacity="0.8"/><line x1="494.1" y1="176.5" x2="495.9" y2="176.5" stroke="#fff" stroke-width="0.5" stroke-opacity="0.8"/><text transform="matrix(0.8394 0 0 1 498.8 178.62)" font-size="6.136" text-anchor="start" fill="#333" stroke="#333" stroke-width="0.16">7.188477e−19</text><line x1="486.1" y1="189.8" x2="487.9" y2="189.8" stroke="#fff" stroke-width="0.5" stroke-opacity="0.8"/><line x1="494.1" y1="189.8" x2="495.9" y2="189.8" stroke="#fff" stroke-width="0.5" stroke-opacity="0.8"/><text transform="matrix(0.8394 0 0 1 498.8 191.92)" font-size="6.136" text-anchor="start" fill="#333" stroke="#333" stroke-width="0.16">2.141799e−28</text><g stroke="#e3e3e3" stroke-width="1.1"><line x1="378.9" y1="282.5" x2="378.9" y2="492"/><line x1="399.1" y1="282.5" x2="399.1" y2="492"/><line x1="419.3" y1="282.5" x2="419.3" y2="492"/><line x1="439.5" y1="282.5" x2="439.5" y2="492"/><line x1="459.7" y1="282.5" x2="459.7" y2="492"/><line x1="479.9" y1="282.5" x2="479.9" y2="492"/><line x1="378.6" y1="294.8" x2="498.8" y2="294.8"/><line x1="378.6" y1="315.45" x2="498.8" y2="315.45"/><line x1="378.6" y1="336.1" x2="498.8" y2="336.1"/><line x1="378.6" y1="356.75" x2="498.8" y2="356.75"/><line x1="378.6" y1="377.4" x2="498.8" y2="377.4"/><line x1="378.6" y1="398.05" x2="498.8" y2="398.05"/><line x1="378.6" y1="418.7" x2="498.8" y2="418.7"/><line x1="378.6" y1="439.35" x2="498.8" y2="439.35"/><line x1="378.6" y1="460" x2="498.8" y2="460"/><line x1="378.6" y1="480.65" x2="498.8" y2="480.65"/></g><ellipse cx="491.01" cy="294.8" rx="4.72" ry="5.24" fill="#ff0000"/><ellipse cx="490.4" cy="315.45" rx="4.62" ry="5.14" fill="#ff0000"/><ellipse cx="481.92" cy="336.1" rx="4.53" ry="5.03" fill="#ff0000"/><ellipse cx="475.66" cy="356.75" rx="4.62" ry="5.14" fill="#ff0000"/><ellipse cx="463.74" cy="377.4" rx="4.43" ry="4.92" fill="#ff0000"/><ellipse cx="461.11" cy="398.05" rx="4.43" ry="4.92" fill="#ff0000"/><ellipse cx="439.3" cy="418.7" rx="4.53" ry="5.03" fill="#ff0000"/><ellipse cx="397.08" cy="439.35" rx="3.95" ry="4.39" fill="#e8104c"/><ellipse cx="396.07" cy="460" rx="1.25" ry="1.39" fill="#e8104c"/><ellipse cx="385.36" cy="480.65" rx="4.24" ry="4.71" fill="#0a0af2"/><rect x="378.6" y="282.5" width="120.2" height="209.5" fill="none" stroke="#333" stroke-width="1.1"/><g stroke="#333" stroke-width="0.8"><line x1="375.4" y1="294.8" x2="378.6" y2="294.8"/><line x1="375.4" y1="315.45" x2="378.6" y2="315.45"/><line x1="375.4" y1="336.1" x2="378.6" y2="336.1"/><line x1="375.4" y1="356.75" x2="378.6" y2="356.75"/><line x1="375.4" y1="377.4" x2="378.6" y2="377.4"/><line x1="375.4" y1="398.05" x2="378.6" y2="398.05"/><line x1="375.4" y1="418.7" x2="378.6" y2="418.7"/><line x1="375.4" y1="439.35" x2="378.6" y2="439.35"/><line x1="375.4" y1="460" x2="378.6" y2="460"/><line x1="375.4" y1="480.65" x2="378.6" y2="480.65"/><line x1="378.9" y1="492" x2="378.9" y2="495.2"/><line x1="399.1" y1="492" x2="399.1" y2="495.2"/><line x1="419.3" y1="492" x2="419.3" y2="495.2"/><line x1="439.5" y1="492" x2="439.5" y2="495.2"/><line x1="459.7" y1="492" x2="459.7" y2="495.2"/><line x1="479.9" y1="492" x2="479.9" y2="495.2"/></g><text transform="matrix(0.8394 0 0 1 374.8 297.21)" font-size="6.958" text-anchor="end" fill="#1e1e1e" stroke="#1e1e1e" stroke-width="0.16">membrane raft</text><text transform="matrix(0.8394 0 0 1 374.8 317.86)" font-size="6.958" text-anchor="end" fill="#1e1e1e" stroke="#1e1e1e" stroke-width="0.16">membrane microdomain</text><text transform="matrix(0.8394 0 0 1 374.8 338.51)" font-size="6.958" text-anchor="end" fill="#1e1e1e" stroke="#1e1e1e" stroke-width="0.16">membrane region</text><text transform="matrix(0.8394 0 0 1 374.8 359.16)" font-size="6.958" text-anchor="end" fill="#1e1e1e" stroke="#1e1e1e" stroke-width="0.16">vesicle lumen</text><text transform="matrix(0.8394 0 0 1 374.8 379.81)" font-size="6.958" text-anchor="end" fill="#1e1e1e" stroke="#1e1e1e" stroke-width="0.16">secretory granule lumen</text><text transform="matrix(0.8394 0 0 1 374.8 400.46)" font-size="6.958" text-anchor="end" fill="#1e1e1e" stroke="#1e1e1e" stroke-width="0.16">cytoplasmic vesicle lumen</text><text transform="matrix(0.8394 0 0 1 374.8 421.11)" font-size="6.958" text-anchor="end" fill="#1e1e1e" stroke="#1e1e1e" stroke-width="0.16">external side of plasma membrane</text><text transform="matrix(0.8394 0 0 1 374.8 441.76)" font-size="6.958" text-anchor="end" fill="#1e1e1e" stroke="#1e1e1e" stroke-width="0.16">endoplasmic reticulum lumen</text><text transform="matrix(0.8394 0 0 1 374.8 462.41)" font-size="6.958" text-anchor="end" fill="#1e1e1e" stroke="#1e1e1e" stroke-width="0.16">platelet alpha granule lumen</text><text transform="matrix(0.8394 0 0 1 374.8 483.06)" font-size="6.958" text-anchor="end" fill="#1e1e1e" stroke="#1e1e1e" stroke-width="0.16">apical plasma membrane</text><text transform="matrix(0.8394 0 0 1 378.9 501.8)" font-size="6.864" text-anchor="middle" fill="#1e1e1e" stroke="#1e1e1e" stroke-width="0.16">7</text><text transform="matrix(0.8394 0 0 1 399.1 501.8)" font-size="6.864" text-anchor="middle" fill="#1e1e1e" stroke="#1e1e1e" stroke-width="0.16">8</text><text transform="matrix(0.8394 0 0 1 419.3 501.8)" font-size="6.864" text-anchor="middle" fill="#1e1e1e" stroke="#1e1e1e" stroke-width="0.16">9</text><text transform="matrix(0.8394 0 0 1 439.5 501.8)" font-size="6.864" text-anchor="middle" fill="#1e1e1e" stroke="#1e1e1e" stroke-width="0.16">10</text><text transform="matrix(0.8394 0 0 1 459.7 501.8)" font-size="6.864" text-anchor="middle" fill="#1e1e1e" stroke="#1e1e1e" stroke-width="0.16">11</text><text transform="matrix(0.8394 0 0 1 479.9 501.8)" font-size="6.864" text-anchor="middle" fill="#1e1e1e" stroke="#1e1e1e" stroke-width="0.16">12</text><text transform="matrix(0.8394 0 0 1 438.7 511.4)" font-size="8.58" text-anchor="middle" fill="#000" stroke="#000" stroke-width="0.16">EnrichmentScore (−log10(pvalue))</text><text transform="matrix(0.8394 0 0 1 438.6 278)" font-size="10.046" text-anchor="middle" fill="#000" stroke="#000" stroke-width="0.16">Cellular Component</text><text transform="matrix(0.8394 0 0 1 510 326.2)" font-size="8.424" text-anchor="start" fill="#000" stroke="#000" stroke-width="0.16">Count</text><rect x="510.2" y="330.9" width="11" height="36.5" fill="#f3f3f3"/><ellipse cx="515.7" cy="336.9" rx="2.53" ry="2.9" fill="#000"/><text transform="matrix(0.8394 0 0 1 524.8 339.38)" font-size="7.176" text-anchor="start" fill="#333" stroke="#333" stroke-width="0.16">15</text><ellipse cx="515.7" cy="349.1" rx="3.06" ry="3.5" fill="#000"/><text transform="matrix(0.8394 0 0 1 524.8 351.58)" font-size="7.176" text-anchor="start" fill="#333" stroke="#333" stroke-width="0.16">20</text><ellipse cx="515.7" cy="361.4" rx="3.58" ry="4.1" fill="#000"/><text transform="matrix(0.8394 0 0 1 524.8 363.88)" font-size="7.176" text-anchor="start" fill="#333" stroke="#333" stroke-width="0.16">25</text><text transform="matrix(0.8394 0 0 1 510 390)" font-size="8.424" text-anchor="start" fill="#000" stroke="#000" stroke-width="0.16">pvalue</text><rect x="509.8" y="394.4" width="11.4" height="61.6" fill="url(#gd)"/><line x1="509.8" y1="405.3" x2="511.6" y2="405.3" stroke="#fff" stroke-width="0.5" stroke-opacity="0.8"/><line x1="519.4" y1="405.3" x2="521.2" y2="405.3" stroke="#fff" stroke-width="0.5" stroke-opacity="0.8"/><text transform="matrix(0.8394 0 0 1 524.8 407.78)" font-size="7.176" text-anchor="start" fill="#333" stroke="#333" stroke-width="0.16">4e−08</text><line x1="509.8" y1="418" x2="511.6" y2="418" stroke="#fff" stroke-width="0.5" stroke-opacity="0.8"/><line x1="519.4" y1="418" x2="521.2" y2="418" stroke="#fff" stroke-width="0.5" stroke-opacity="0.8"/><text transform="matrix(0.8394 0 0 1 524.8 420.48)" font-size="7.176" text-anchor="start" fill="#333" stroke="#333" stroke-width="0.16">3e−08</text><line x1="509.8" y1="430.7" x2="511.6" y2="430.7" stroke="#fff" stroke-width="0.5" stroke-opacity="0.8"/><line x1="519.4" y1="430.7" x2="521.2" y2="430.7" stroke="#fff" stroke-width="0.5" stroke-opacity="0.8"/><text transform="matrix(0.8394 0 0 1 524.8 433.18)" font-size="7.176" text-anchor="start" fill="#333" stroke="#333" stroke-width="0.16">2e−08</text><line x1="509.8" y1="443.5" x2="511.6" y2="443.5" stroke="#fff" stroke-width="0.5" stroke-opacity="0.8"/><line x1="519.4" y1="443.5" x2="521.2" y2="443.5" stroke="#fff" stroke-width="0.5" stroke-opacity="0.8"/><text transform="matrix(0.8394 0 0 1 524.8 445.98)" font-size="7.176" text-anchor="start" fill="#333" stroke="#333" stroke-width="0.16">1e−08</text></svg>
<div class="pl" style="left:134.8px;top:247.6px">(<b>a</b>)</div>
<div class="pl" style="left:406.7px;top:247.6px">(<b>b</b>)</div>
<div class="pl" style="left:134.8px;top:524.6px">(<b>c</b>)</div>
<div class="pl" style="left:406.7px;top:524.9px">(<b>d</b>)</div>
</body></html>
